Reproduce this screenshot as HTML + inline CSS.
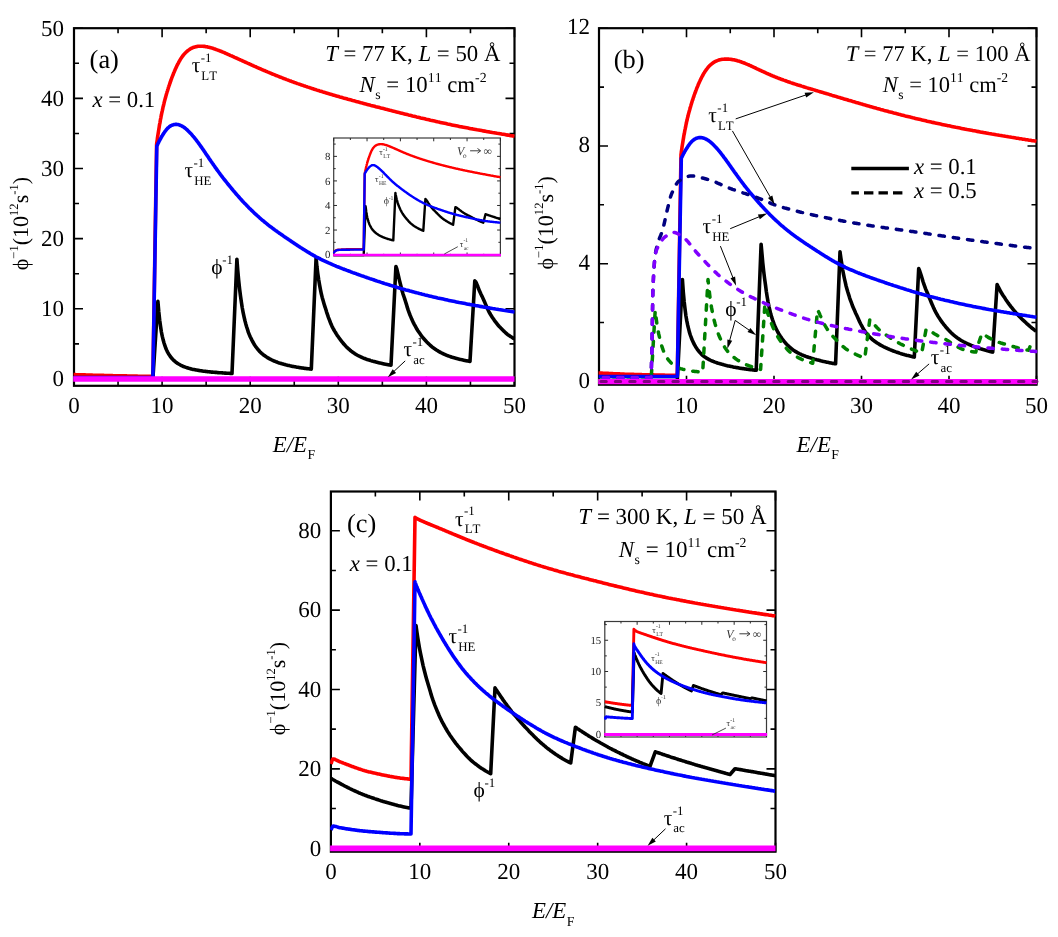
<!DOCTYPE html><html><head><meta charset="utf-8"><title>chart</title><style>html,body{margin:0;padding:0;background:#fff;}body{width:1058px;height:937px;overflow:hidden;font-family:"Liberation Serif",serif;}svg{display:block}</style></head><body><svg width="1058" height="937" viewBox="0 0 1058 937" font-family="'Liberation Serif', serif" text-rendering="geometricPrecision" style="font-kerning:none;will-change:transform"><defs><clipPath id="clipa"><rect x="73.2" y="27.4" width="442.1" height="359.20000000000005"/></clipPath><clipPath id="clipb"><rect x="598.2" y="27.4" width="439.1" height="358.1"/></clipPath><clipPath id="clipc"><rect x="330.09999999999997" y="490.7" width="446.20000000000005" height="361.80000000000007"/></clipPath><clipPath id="clipia"><rect x="332.9" y="137.2" width="168.29999999999998" height="119.4"/></clipPath><clipPath id="clipic"><rect x="604.0" y="620.7" width="163.30000000000004" height="117.1"/></clipPath></defs><rect width="1058" height="937" fill="#fff"/><rect x="74.0" y="28.2" width="440.5" height="357.6" fill="none" stroke="#000" stroke-width="2.2"/>
<path d="M74.00,385.8v-9M74.00,28.2v9M162.10,385.8v-9M162.10,28.2v9M250.20,385.8v-9M250.20,28.2v9M338.30,385.8v-9M338.30,28.2v9M426.40,385.8v-9M426.40,28.2v9M514.50,385.8v-9M514.50,28.2v9M118.05,385.8v-5M118.05,28.2v5M206.15,385.8v-5M206.15,28.2v5M294.25,385.8v-5M294.25,28.2v5M382.35,385.8v-5M382.35,28.2v5M470.45,385.8v-5M470.45,28.2v5M74.0,378.90h9M514.5,378.90h-9M74.0,308.77h9M514.5,308.77h-9M74.0,238.64h9M514.5,238.64h-9M74.0,168.51h9M514.5,168.51h-9M74.0,98.38h9M514.5,98.38h-9M74.0,28.25h9M514.5,28.25h-9M74.0,343.83h5M514.5,343.83h-5M74.0,273.70h5M514.5,273.70h-5M74.0,203.57h5M514.5,203.57h-5M74.0,133.44h5M514.5,133.44h-5M74.0,63.31h5M514.5,63.31h-5" stroke="#000" stroke-width="1.6" fill="none"/>
<polyline clip-path="url(#clipa)" points="73.5,374.6 74.4,374.6 75.3,374.6 76.1,374.7 77.0,374.7 77.9,374.7 78.8,374.7 79.7,374.8 80.6,374.8 81.4,374.8 82.3,374.9 83.2,374.9 84.1,374.9 85.0,374.9 85.8,375.0 86.7,375.0 87.6,375.0 88.5,375.0 89.4,375.1 90.3,375.1 91.1,375.1 92.0,375.1 92.9,375.2 93.8,375.2 94.7,375.2 95.5,375.2 96.4,375.3 97.3,375.3 98.2,375.3 99.1,375.3 100.0,375.3 100.8,375.4 101.7,375.4 102.6,375.4 103.5,375.4 104.4,375.5 105.3,375.5 106.1,375.5 107.0,375.5 107.9,375.5 108.8,375.6 109.7,375.6 110.5,375.6 111.4,375.6 112.3,375.6 113.2,375.7 114.1,375.7 115.0,375.7 115.8,375.7 116.7,375.7 117.6,375.8 118.5,375.8 119.4,375.8 120.2,375.8 121.1,375.8 122.0,375.8 122.9,375.9 123.8,375.9 124.7,375.9 125.5,375.9 126.4,375.9 127.3,376.0 128.2,376.0 129.1,376.0 129.9,376.0 130.8,376.0 131.7,376.0 132.6,376.1 133.5,376.1 134.4,376.1 135.2,376.1 136.1,376.1 137.0,376.1 137.9,376.2 138.8,376.2 139.7,376.2 140.5,376.2 141.4,376.2 142.3,376.2 143.2,376.3 144.1,376.3 144.9,376.3 145.8,376.3 146.7,376.3 147.6,376.3 148.5,376.3 149.4,376.3 150.2,376.4 151.1,376.4 152.0,376.4 152.9,376.4 156.6,144.7 156.7,143.4 156.9,142.1 157.1,140.8 157.3,139.6 157.4,138.3 157.6,137.0 157.8,135.8 158.0,134.5 158.2,133.2 158.4,131.9 158.6,130.7 158.8,129.4 159.0,128.2 159.2,126.9 159.4,125.6 159.6,124.4 159.9,123.1 160.1,121.9 160.3,120.6 160.5,119.4 160.8,118.1 161.0,116.9 161.2,115.7 161.5,114.5 161.7,113.3 162.0,112.0 162.3,110.9 162.5,109.7 162.8,108.5 163.0,107.3 163.3,106.2 163.6,105.0 163.9,103.9 164.1,102.7 164.4,101.6 164.7,100.5 165.0,99.4 165.3,98.3 165.6,97.2 165.9,96.1 166.2,95.0 166.5,93.9 166.8,92.9 167.1,91.8 167.5,90.8 167.8,89.7 168.1,88.7 168.4,87.6 168.8,86.6 169.1,85.6 169.5,84.6 169.8,83.5 170.2,82.5 170.5,81.5 170.9,80.5 171.2,79.5 171.6,78.6 171.9,77.6 172.3,76.6 172.7,75.6 173.1,74.7 173.4,73.7 173.8,72.8 174.2,71.9 174.6,70.9 175.0,70.0 175.4,69.1 175.8,68.2 176.2,67.4 176.6,66.5 177.0,65.6 177.4,64.8 177.9,64.0 178.3,63.2 178.7,62.4 179.1,61.6 179.6,60.8 180.0,60.1 180.4,59.4 180.9,58.6 181.3,58.0 181.8,57.3 182.2,56.6 182.7,56.0 183.2,55.4 183.6,54.8 184.1,54.3 184.6,53.8 185.0,53.2 185.5,52.7 186.0,52.3 186.5,51.8 187.0,51.4 187.5,50.9 188.0,50.5 188.5,50.2 189.0,49.8 189.5,49.5 190.0,49.1 190.5,48.8 191.0,48.5 191.6,48.3 192.1,48.0 192.6,47.8 193.1,47.5 193.7,47.3 194.2,47.2 194.8,47.0 195.3,46.8 195.9,46.7 196.4,46.6 197.0,46.5 197.5,46.4 198.1,46.3 198.7,46.3 199.2,46.2 199.8,46.2 200.4,46.2 201.0,46.2 201.6,46.2 202.1,46.2 202.7,46.2 203.3,46.3 203.9,46.4 204.5,46.4 205.1,46.5 205.7,46.6 206.4,46.7 207.0,46.8 207.6,47.0 208.2,47.1 208.9,47.2 209.5,47.4 210.1,47.6 210.8,47.7 211.4,47.9 212.0,48.1 212.7,48.3 213.4,48.5 214.0,48.7 214.7,48.9 215.3,49.2 216.0,49.4 216.7,49.7 217.3,49.9 218.0,50.2 218.7,50.4 219.4,50.7 220.1,51.0 220.8,51.2 221.5,51.5 222.2,51.8 222.9,52.1 223.6,52.4 224.3,52.7 225.0,53.0 225.7,53.3 226.4,53.6 227.2,54.0 227.9,54.3 228.6,54.6 229.3,54.9 230.1,55.3 230.8,55.6 231.6,55.9 232.3,56.3 233.1,56.6 233.8,56.9 234.6,57.3 235.3,57.6 236.1,58.0 236.9,58.3 237.7,58.7 238.4,59.0 239.2,59.4 240.0,59.7 240.8,60.1 241.6,60.4 242.4,60.8 243.2,61.2 244.0,61.5 244.8,61.9 245.6,62.3 246.4,62.6 247.2,63.0 248.0,63.4 248.9,63.7 249.7,64.1 250.5,64.5 251.4,64.9 252.2,65.2 253.0,65.6 253.9,66.0 254.7,66.4 255.6,66.7 256.4,67.1 257.3,67.5 258.1,67.9 259.0,68.3 259.9,68.6 260.8,69.0 261.6,69.4 262.5,69.8 263.4,70.2 264.3,70.5 265.2,70.9 266.1,71.3 267.0,71.7 267.9,72.1 268.8,72.4 269.7,72.8 270.6,73.2 271.5,73.6 272.4,74.0 273.3,74.3 274.3,74.7 275.2,75.1 276.1,75.5 277.1,75.8 278.0,76.2 279.0,76.6 279.9,77.0 280.9,77.3 281.8,77.7 282.8,78.1 283.7,78.5 284.7,78.8 285.7,79.2 286.6,79.6 287.6,79.9 288.6,80.3 289.6,80.7 290.6,81.0 291.5,81.4 292.5,81.8 293.5,82.1 294.5,82.5 295.5,82.8 296.5,83.2 297.6,83.6 298.6,83.9 299.6,84.3 300.6,84.6 301.6,85.0 302.7,85.3 303.7,85.7 304.7,86.0 305.8,86.4 306.8,86.7 307.9,87.1 308.9,87.4 310.0,87.8 311.0,88.1 312.1,88.5 313.1,88.8 314.2,89.2 315.3,89.5 316.4,89.9 317.4,90.2 318.5,90.5 319.6,90.9 320.7,91.2 321.8,91.5 322.9,91.9 324.0,92.2 325.1,92.6 326.2,92.9 327.3,93.2 328.4,93.6 329.5,93.9 330.7,94.2 331.8,94.6 332.9,94.9 334.0,95.2 335.2,95.6 336.3,95.9 337.5,96.2 338.6,96.5 339.7,96.9 340.9,97.2 342.1,97.5 343.2,97.9 344.4,98.2 345.5,98.5 346.7,98.8 347.9,99.2 349.1,99.5 350.2,99.8 351.4,100.1 352.6,100.5 353.8,100.8 355.0,101.1 356.2,101.5 357.4,101.8 358.6,102.1 359.8,102.4 361.0,102.8 362.3,103.1 363.5,103.4 364.7,103.7 365.9,104.1 367.2,104.4 368.4,104.7 369.6,105.0 370.9,105.4 372.1,105.7 373.4,106.0 374.6,106.3 375.9,106.7 377.1,107.0 378.4,107.3 379.7,107.6 380.9,108.0 382.2,108.3 383.5,108.6 384.8,108.9 386.0,109.3 387.3,109.6 388.6,109.9 389.9,110.3 391.2,110.6 392.5,110.9 393.8,111.2 395.1,111.6 396.4,111.9 397.8,112.2 399.1,112.6 400.4,112.9 401.7,113.2 403.1,113.6 404.4,113.9 405.7,114.2 407.1,114.5 408.4,114.9 409.8,115.2 411.1,115.5 412.5,115.9 413.8,116.2 415.2,116.5 416.5,116.9 417.9,117.2 419.3,117.5 420.7,117.9 422.0,118.2 423.4,118.5 424.8,118.8 426.2,119.2 427.6,119.5 429.0,119.8 430.4,120.2 431.8,120.5 433.2,120.8 434.6,121.1 436.0,121.4 437.5,121.8 438.9,122.1 440.3,122.4 441.7,122.7 443.2,123.0 444.6,123.3 446.0,123.6 447.5,124.0 448.9,124.3 450.4,124.6 451.8,124.9 453.3,125.2 454.8,125.5 456.2,125.8 457.7,126.1 459.2,126.4 460.6,126.7 462.1,126.9 463.6,127.2 465.1,127.5 466.6,127.8 468.1,128.1 469.6,128.4 471.1,128.7 472.6,128.9 474.1,129.2 475.6,129.5 477.1,129.8 478.6,130.0 480.1,130.3 481.7,130.6 483.2,130.9 484.7,131.1 486.3,131.4 487.8,131.7 489.3,131.9 490.9,132.2 492.4,132.5 494.0,132.7 495.5,133.0 497.1,133.3 498.7,133.5 500.2,133.8 501.8,134.1 503.4,134.3 505.0,134.6 506.5,134.9 508.1,135.1 509.7,135.4 511.3,135.7 512.9,135.9 514.5,136.2" fill="none" stroke="#ff0000" stroke-width="3.6" stroke-linecap="butt" stroke-linejoin="round"/>
<polyline clip-path="url(#clipa)" points="73.5,378.5 74.4,378.5 75.3,378.5 76.1,378.5 77.0,378.5 77.9,378.5 78.8,378.5 79.7,378.5 80.6,378.5 81.4,378.5 82.3,378.5 83.2,378.5 84.1,378.5 85.0,378.5 85.8,378.5 86.7,378.5 87.6,378.5 88.5,378.5 89.4,378.5 90.3,378.5 91.1,378.5 92.0,378.5 92.9,378.5 93.8,378.5 94.7,378.5 95.5,378.5 96.4,378.5 97.3,378.5 98.2,378.5 99.1,378.5 100.0,378.5 100.8,378.5 101.7,378.5 102.6,378.5 103.5,378.5 104.4,378.5 105.3,378.5 106.1,378.5 107.0,378.5 107.9,378.5 108.8,378.5 109.7,378.5 110.5,378.5 111.4,378.5 112.3,378.5 113.2,378.5 114.1,378.5 115.0,378.5 115.8,378.5 116.7,378.5 117.6,378.5 118.5,378.5 119.4,378.5 120.2,378.5 121.1,378.5 122.0,378.5 122.9,378.5 123.8,378.5 124.7,378.5 125.5,378.5 126.4,378.5 127.3,378.5 128.2,378.5 129.1,378.5 129.9,378.5 130.8,378.5 131.7,378.5 132.6,378.5 133.5,378.5 134.4,378.5 135.2,378.5 136.1,378.5 137.0,378.5 137.9,378.5 138.8,378.5 139.7,378.5 140.5,378.5 141.4,378.5 142.3,378.5 143.2,378.5 144.1,378.5 144.9,378.5 145.8,378.5 146.7,378.5 147.6,378.5 148.5,378.5 149.4,378.5 150.2,378.5 151.1,378.5 152.0,378.5 152.9,378.5 157.9,301.3 158.8,312.0 159.7,320.2 160.6,326.7 161.4,332.0 162.3,336.4 163.2,340.1 164.1,343.2 165.0,345.9 165.8,348.3 166.7,350.3 167.6,352.1 168.5,353.7 169.4,355.1 170.3,356.4 171.1,357.5 172.0,358.6 172.9,359.5 173.8,360.4 174.7,361.2 175.5,361.9 176.4,362.6 177.3,363.2 178.2,363.8 179.1,364.3 180.0,364.8 180.8,365.3 181.7,365.7 182.6,366.1 183.5,366.5 184.4,366.8 185.2,367.1 186.1,367.4 187.0,367.7 187.9,368.0 188.8,368.3 189.7,368.5 190.5,368.7 191.4,369.0 192.3,369.2 193.2,369.4 194.1,369.6 195.0,369.8 195.8,369.9 196.7,370.1 197.6,370.3 198.5,370.4 199.4,370.5 200.2,370.7 201.1,370.8 202.0,370.9 202.9,371.1 203.8,371.2 204.7,371.3 205.5,371.4 206.4,371.5 207.3,371.6 208.2,371.7 209.1,371.8 209.9,371.9 210.8,372.0 211.7,372.1 212.6,372.1 213.5,372.2 214.4,372.3 215.2,372.4 216.1,372.4 217.0,372.5 217.9,372.6 218.8,372.7 219.6,372.7 220.5,372.8 221.4,372.8 222.3,372.9 223.2,373.0 224.1,373.0 224.9,373.1 225.8,373.1 226.7,373.2 227.6,373.2 228.5,373.3 229.3,373.3 230.2,373.4 231.1,373.4 232.0,373.5 236.9,259.2 237.8,270.8 238.7,280.7 239.6,289.0 240.5,296.1 241.4,302.2 242.2,307.5 243.1,312.3 244.0,316.6 244.9,320.5 245.8,323.9 246.7,327.0 247.6,329.8 248.4,332.4 249.3,334.6 250.2,336.7 251.1,338.6 252.0,340.4 252.9,342.0 253.8,343.6 254.6,345.0 255.5,346.3 256.4,347.5 257.3,348.7 258.2,349.8 259.1,350.8 259.9,351.7 260.8,352.6 261.7,353.4 262.6,354.1 263.5,354.9 264.4,355.5 265.3,356.2 266.1,356.8 267.0,357.3 267.9,357.9 268.8,358.4 269.7,358.9 270.6,359.3 271.5,359.8 272.3,360.2 273.2,360.6 274.1,361.0 275.0,361.3 275.9,361.7 276.8,362.0 277.7,362.4 278.5,362.7 279.4,363.0 280.3,363.2 281.2,363.5 282.1,363.8 283.0,364.0 283.8,364.3 284.7,364.5 285.6,364.8 286.5,365.0 287.4,365.2 288.3,365.4 289.2,365.6 290.0,365.8 290.9,366.0 291.8,366.2 292.7,366.4 293.6,366.5 294.5,366.7 295.4,366.8 296.2,367.0 297.1,367.2 298.0,367.3 298.9,367.5 299.8,367.6 300.7,367.7 301.6,367.9 302.4,368.0 303.3,368.1 304.2,368.2 305.1,368.4 306.0,368.5 306.9,368.6 307.7,368.7 308.6,368.8 309.5,368.9 310.4,369.0 311.3,369.1 316.1,257.6 316.9,266.3 317.8,273.6 318.7,279.8 319.6,285.1 320.5,289.8 321.3,293.8 322.2,297.4 323.1,300.6 324.0,303.7 324.9,306.6 325.8,309.3 326.6,312.1 327.5,314.7 328.4,317.3 329.3,319.7 330.2,322.0 331.0,324.1 331.9,326.1 332.8,327.9 333.7,329.5 334.6,331.1 335.5,332.5 336.3,333.9 337.2,335.3 338.1,336.5 339.0,337.8 339.9,339.0 340.7,340.2 341.6,341.3 342.5,342.4 343.4,343.5 344.3,344.6 345.2,345.5 346.0,346.5 346.9,347.3 347.8,348.2 348.7,349.0 349.6,349.7 350.4,350.5 351.3,351.2 352.2,351.8 353.1,352.5 354.0,353.1 354.9,353.7 355.7,354.2 356.6,354.8 357.5,355.3 358.4,355.7 359.3,356.2 360.2,356.6 361.0,357.0 361.9,357.4 362.8,357.8 363.7,358.2 364.6,358.5 365.4,358.8 366.3,359.2 367.2,359.5 368.1,359.8 369.0,360.0 369.9,360.3 370.7,360.6 371.6,360.9 372.5,361.1 373.4,361.4 374.3,361.6 375.1,361.8 376.0,362.1 376.9,362.3 377.8,362.5 378.7,362.7 379.6,362.9 380.4,363.1 381.3,363.3 382.2,363.5 383.1,363.7 384.0,363.9 384.8,364.1 385.7,364.2 386.6,364.4 387.5,364.6 388.4,364.7 389.3,364.9 390.1,365.0 391.0,365.2 395.9,266.5 396.8,268.9 397.6,272.4 398.5,276.2 399.4,280.1 400.3,283.8 401.2,287.3 402.0,290.6 402.9,293.6 403.8,296.3 404.7,298.9 405.6,301.7 406.5,304.6 407.3,307.4 408.2,310.1 409.1,312.6 410.0,315.0 410.9,317.1 411.7,319.1 412.6,321.0 413.5,322.9 414.4,324.6 415.3,326.2 416.2,327.8 417.0,329.3 417.9,330.7 418.8,332.0 419.7,333.3 420.6,334.6 421.4,335.7 422.3,336.9 423.2,338.0 424.1,339.0 425.0,340.0 425.9,341.0 426.7,341.9 427.6,342.8 428.5,343.7 429.4,344.5 430.3,345.3 431.2,346.1 432.0,346.8 432.9,347.5 433.8,348.2 434.7,348.8 435.6,349.4 436.4,350.0 437.3,350.5 438.2,351.1 439.1,351.6 440.0,352.1 440.9,352.6 441.7,353.0 442.6,353.5 443.5,353.9 444.4,354.3 445.3,354.7 446.1,355.1 447.0,355.4 447.9,355.8 448.8,356.1 449.7,356.4 450.6,356.7 451.4,357.0 452.3,357.3 453.2,357.6 454.1,357.8 455.0,358.1 455.8,358.3 456.7,358.6 457.6,358.8 458.5,359.0 459.4,359.2 460.3,359.4 461.1,359.6 462.0,359.8 462.9,360.0 463.8,360.2 464.7,360.4 465.5,360.6 466.4,360.7 467.3,360.9 468.2,361.0 469.1,361.2 470.0,361.4 474.8,280.9 475.7,281.8 476.6,283.6 477.5,285.7 478.3,288.0 479.2,290.2 480.1,292.3 481.0,294.3 481.9,296.1 482.7,297.8 483.6,299.7 484.5,301.8 485.4,303.9 486.3,306.0 487.2,308.0 488.0,309.8 488.9,311.6 489.8,313.3 490.7,314.8 491.6,316.2 492.4,317.5 493.3,318.8 494.2,320.1 495.1,321.3 496.0,322.5 496.9,323.6 497.7,324.7 498.6,325.7 499.5,326.7 500.4,327.6 501.3,328.6 502.2,329.5 503.0,330.3 503.9,331.2 504.8,332.0 505.7,332.8 506.6,333.6 507.4,334.3 508.3,335.0 509.2,335.6 510.1,336.2 511.0,336.8 511.9,337.3 512.7,337.9 513.6,338.4 514.5,338.9" fill="none" stroke="#000000" stroke-width="3.6" stroke-linecap="butt" stroke-linejoin="round"/>
<polyline clip-path="url(#clipa)" points="73.5,377.5 74.4,377.5 75.3,377.5 76.1,377.5 77.0,377.5 77.9,377.5 78.8,377.5 79.7,377.5 80.6,377.5 81.4,377.5 82.3,377.5 83.2,377.5 84.1,377.5 85.0,377.5 85.8,377.5 86.7,377.5 87.6,377.5 88.5,377.5 89.4,377.5 90.3,377.5 91.1,377.5 92.0,377.5 92.9,377.5 93.8,377.5 94.7,377.5 95.5,377.5 96.4,377.5 97.3,377.5 98.2,377.5 99.1,377.5 100.0,377.5 100.8,377.5 101.7,377.5 102.6,377.5 103.5,377.5 104.4,377.5 105.3,377.5 106.1,377.5 107.0,377.5 107.9,377.5 108.8,377.5 109.7,377.5 110.5,377.5 111.4,377.5 112.3,377.5 113.2,377.5 114.1,377.5 115.0,377.5 115.8,377.5 116.7,377.5 117.6,377.5 118.5,377.5 119.4,377.5 120.2,377.5 121.1,377.5 122.0,377.5 122.9,377.5 123.8,377.5 124.7,377.5 125.5,377.5 126.4,377.5 127.3,377.5 128.2,377.5 129.1,377.5 129.9,377.5 130.8,377.5 131.7,377.5 132.6,377.5 133.5,377.5 134.4,377.5 135.2,377.5 136.1,377.5 137.0,377.5 137.9,377.5 138.8,377.5 139.7,377.5 140.5,377.5 141.4,377.5 142.3,377.5 143.2,377.5 144.1,377.5 144.9,377.5 145.8,377.5 146.7,377.5 147.6,377.5 148.5,377.5 149.4,377.5 150.2,377.5 151.1,377.5 152.0,377.5 152.9,377.5 156.8,146.1 157.0,145.8 157.2,145.4 157.4,145.0 157.5,144.6 157.7,144.2 157.9,143.8 158.1,143.4 158.3,143.0 158.5,142.6 158.7,142.2 158.9,141.8 159.1,141.4 159.3,140.9 159.5,140.5 159.8,140.1 160.0,139.7 160.2,139.3 160.4,138.9 160.7,138.5 160.9,138.0 161.1,137.6 161.4,137.2 161.6,136.8 161.9,136.3 162.1,135.9 162.4,135.5 162.7,135.0 162.9,134.6 163.2,134.2 163.5,133.7 163.7,133.3 164.0,132.9 164.3,132.5 164.6,132.0 164.9,131.6 165.2,131.2 165.5,130.8 165.8,130.4 166.1,130.1 166.4,129.7 166.7,129.3 167.0,129.0 167.3,128.6 167.6,128.3 168.0,128.0 168.3,127.7 168.6,127.4 169.0,127.1 169.3,126.8 169.6,126.6 170.0,126.3 170.3,126.1 170.7,125.9 171.0,125.7 171.4,125.5 171.8,125.3 172.1,125.2 172.5,125.0 172.9,124.9 173.3,124.8 173.6,124.7 174.0,124.6 174.4,124.5 174.8,124.5 175.2,124.4 175.6,124.4 176.0,124.4 176.4,124.4 176.8,124.4 177.2,124.5 177.6,124.5 178.1,124.6 178.5,124.7 178.9,124.8 179.3,125.0 179.8,125.1 180.2,125.3 180.7,125.5 181.1,125.7 181.6,125.9 182.0,126.1 182.5,126.4 182.9,126.7 183.4,126.9 183.9,127.3 184.3,127.6 184.8,127.9 185.3,128.3 185.8,128.7 186.2,129.1 186.7,129.5 187.2,130.0 187.7,130.4 188.2,130.9 188.7,131.4 189.2,131.9 189.7,132.4 190.2,133.0 190.7,133.5 191.3,134.1 191.8,134.7 192.3,135.3 192.8,135.9 193.4,136.5 193.9,137.2 194.5,137.9 195.0,138.5 195.5,139.2 196.1,139.9 196.7,140.7 197.2,141.4 197.8,142.1 198.3,142.9 198.9,143.7 199.5,144.5 200.1,145.3 200.6,146.1 201.2,146.9 201.8,147.7 202.4,148.6 203.0,149.4 203.6,150.3 204.2,151.2 204.8,152.1 205.4,153.0 206.0,153.9 206.6,154.8 207.2,155.7 207.9,156.6 208.5,157.5 209.1,158.5 209.7,159.4 210.4,160.3 211.0,161.2 211.7,162.2 212.3,163.1 213.0,164.0 213.6,165.0 214.3,165.9 214.9,166.9 215.6,167.8 216.3,168.7 216.9,169.7 217.6,170.6 218.3,171.5 219.0,172.5 219.7,173.4 220.3,174.3 221.0,175.2 221.7,176.2 222.4,177.1 223.1,178.0 223.8,178.9 224.5,179.8 225.3,180.7 226.0,181.6 226.7,182.5 227.4,183.4 228.1,184.3 228.9,185.2 229.6,186.1 230.4,187.0 231.1,187.9 231.8,188.8 232.6,189.7 233.3,190.6 234.1,191.5 234.9,192.4 235.6,193.3 236.4,194.2 237.2,195.1 237.9,195.9 238.7,196.8 239.5,197.7 240.3,198.6 241.1,199.5 241.8,200.3 242.6,201.2 243.4,202.0 244.2,202.9 245.1,203.8 245.9,204.6 246.7,205.4 247.5,206.3 248.3,207.1 249.1,208.0 250.0,208.8 250.8,209.6 251.6,210.4 252.5,211.2 253.3,212.0 254.1,212.8 255.0,213.6 255.8,214.4 256.7,215.2 257.6,216.0 258.4,216.7 259.3,217.5 260.2,218.3 261.0,219.0 261.9,219.8 262.8,220.5 263.7,221.2 264.5,222.0 265.4,222.7 266.3,223.4 267.2,224.1 268.1,224.9 269.0,225.6 269.9,226.3 270.9,227.0 271.8,227.6 272.7,228.3 273.6,229.0 274.5,229.7 275.5,230.4 276.4,231.0 277.3,231.7 278.3,232.4 279.2,233.1 280.2,233.7 281.1,234.4 282.1,235.0 283.0,235.7 284.0,236.4 284.9,237.0 285.9,237.7 286.9,238.4 287.9,239.0 288.8,239.7 289.8,240.3 290.8,241.0 291.8,241.7 292.8,242.4 293.8,243.0 294.8,243.7 295.8,244.4 296.8,245.0 297.8,245.7 298.8,246.4 299.8,247.0 300.9,247.7 301.9,248.3 302.9,249.0 303.9,249.6 305.0,250.3 306.0,250.9 307.1,251.6 308.1,252.2 309.2,252.8 310.2,253.5 311.3,254.1 312.3,254.7 313.4,255.3 314.5,255.9 315.5,256.5 316.6,257.1 317.7,257.6 318.8,258.2 319.8,258.7 320.9,259.3 322.0,259.8 323.1,260.4 324.2,260.9 325.3,261.4 326.4,261.9 327.5,262.4 328.6,262.9 329.8,263.4 330.9,263.9 332.0,264.4 333.1,264.9 334.3,265.4 335.4,265.8 336.5,266.3 337.7,266.8 338.8,267.2 340.0,267.7 341.1,268.1 342.3,268.6 343.4,269.0 344.6,269.5 345.8,269.9 346.9,270.4 348.1,270.8 349.3,271.2 350.5,271.7 351.6,272.1 352.8,272.6 354.0,273.0 355.2,273.4 356.4,273.8 357.6,274.3 358.8,274.7 360.0,275.1 361.2,275.6 362.5,276.0 363.7,276.4 364.9,276.9 366.1,277.3 367.3,277.7 368.6,278.1 369.8,278.6 371.1,279.0 372.3,279.4 373.5,279.8 374.8,280.3 376.1,280.7 377.3,281.1 378.6,281.5 379.8,281.9 381.1,282.4 382.4,282.8 383.7,283.2 384.9,283.6 386.2,284.0 387.5,284.4 388.8,284.8 390.1,285.2 391.4,285.6 392.7,286.0 394.0,286.4 395.3,286.8 396.6,287.2 397.9,287.6 399.2,288.0 400.6,288.4 401.9,288.7 403.2,289.1 404.5,289.5 405.9,289.9 407.2,290.2 408.6,290.6 409.9,291.0 411.2,291.3 412.6,291.7 414.0,292.1 415.3,292.4 416.7,292.8 418.1,293.1 419.4,293.5 420.8,293.8 422.2,294.2 423.6,294.5 424.9,294.9 426.3,295.2 427.7,295.6 429.1,295.9 430.5,296.2 431.9,296.6 433.3,296.9 434.7,297.2 436.1,297.5 437.6,297.9 439.0,298.2 440.4,298.5 441.8,298.8 443.3,299.1 444.7,299.4 446.1,299.7 447.6,300.1 449.0,300.4 450.5,300.7 451.9,301.0 453.4,301.3 454.8,301.6 456.3,301.9 457.8,302.2 459.2,302.5 460.7,302.7 462.2,303.0 463.7,303.3 465.2,303.6 466.6,303.9 468.1,304.2 469.6,304.4 471.1,304.7 472.6,305.0 474.1,305.3 475.6,305.6 477.1,305.8 478.7,306.1 480.2,306.4 481.7,306.6 483.2,306.9 484.8,307.2 486.3,307.4 487.8,307.7 489.4,307.9 490.9,308.2 492.5,308.5 494.0,308.7 495.6,309.0 497.1,309.2 498.7,309.5 500.3,309.7 501.8,310.0 503.4,310.3 505.0,310.5 506.6,310.8 508.1,311.0 509.7,311.3 511.3,311.5 512.9,311.8 514.5,312.0" fill="none" stroke="#0000ff" stroke-width="3.6" stroke-linecap="butt" stroke-linejoin="round"/>
<line x1="73.2" x2="514.5" y1="379.0" y2="379.0" stroke="#ff00ff" stroke-width="5.7"/>
<text x="74.00" y="412.9" font-size="23" text-anchor="middle">0</text>
<text x="64" y="386.20" font-size="23" text-anchor="end">0</text>
<text x="162.10" y="412.9" font-size="23" text-anchor="middle">10</text>
<text x="64" y="316.07" font-size="23" text-anchor="end">10</text>
<text x="250.20" y="412.9" font-size="23" text-anchor="middle">20</text>
<text x="64" y="245.94" font-size="23" text-anchor="end">20</text>
<text x="338.30" y="412.9" font-size="23" text-anchor="middle">30</text>
<text x="64" y="175.81" font-size="23" text-anchor="end">30</text>
<text x="426.40" y="412.9" font-size="23" text-anchor="middle">40</text>
<text x="64" y="105.68" font-size="23" text-anchor="end">40</text>
<text x="514.50" y="412.9" font-size="23" text-anchor="middle">50</text>
<text x="64" y="35.55" font-size="23" text-anchor="end">50</text>
<g fill="#000"><text x="272.82" y="451.50" font-size="22.8" font-style="italic">E</text><text x="286.75" y="451.50" font-size="22.8" font-style="italic">/</text><text x="293.08" y="451.50" font-size="22.8" font-style="italic">E</text><text x="307.51" y="459.02" font-size="13.8">F</text></g>
<g fill="#000" transform="rotate(-90 28.4 223.6)"><text x="-18.25" y="223.60" font-size="22.0">ϕ</text><text x="-6.67" y="213.15" font-size="12.6">−</text><text x="0.44" y="213.15" font-size="12.6">1</text><text x="6.74" y="223.60" font-size="22.0">(10</text><text x="36.06" y="213.15" font-size="12.6">12</text><text x="48.66" y="223.60" font-size="22.0">s</text><text x="57.23" y="213.15" font-size="12.6">-1</text><text x="67.72" y="223.60" font-size="22.0">)</text></g>
<g fill="#000"><text x="89.60" y="68.30" font-size="26.4">(a)</text></g>
<g fill="#000"><text x="92.40" y="106.80" font-size="22.8" font-style="italic">x</text><text x="102.52" y="106.80" font-size="22.8"> = 0.1</text></g>
<g fill="#000"><text x="325.19" y="61.20" font-size="22.8" font-style="italic">T</text><text x="337.87" y="61.20" font-size="22.8"> = 77 K, </text><text x="418.50" y="61.20" font-size="22.8" font-style="italic">L</text><text x="431.18" y="61.20" font-size="22.8"> = 50 Å</text></g>
<g fill="#000"><text x="359.60" y="91.80" font-size="22.8" font-style="italic">N</text><text x="375.31" y="99.32" font-size="13.8">s</text><text x="380.68" y="91.80" font-size="22.8"> = 10</text><text x="427.74" y="82.22" font-size="13.8">11</text><text x="441.54" y="91.80" font-size="22.8"> cm</text><text x="475.09" y="82.22" font-size="13.8">-2</text></g>
<g fill="#000"><text x="191.70" y="72.10" font-size="21.3">τ</text><text x="200.76" y="61.80" font-size="12.9">-1</text><text x="201.36" y="79.70" font-size="12.9">LT</text></g>
<g fill="#000"><text x="184.50" y="177.00" font-size="21.3">τ</text><text x="193.56" y="166.70" font-size="12.9">-1</text><text x="194.16" y="184.60" font-size="12.9">HE</text></g>
<g fill="#000"><text x="211.20" y="274.00" font-size="21.5">ϕ</text><text x="222.22" y="263.80" font-size="12.9">-1</text></g>
<g fill="#000"><text x="403.50" y="356.40" font-size="21.3">τ</text><text x="412.56" y="346.10" font-size="12.9">-1</text><text x="413.16" y="364.00" font-size="12.9">ac</text></g>
<line x1="405.2" y1="360.9" x2="393.6" y2="371.7" stroke="#000" stroke-width="1.0"/>
<polygon points="387.8,377.2 392.7,369.2 396.1,372.9" fill="#000"/>
<rect x="599.0" y="28.2" width="437.5" height="356.5" fill="none" stroke="#000" stroke-width="2.2"/>
<path d="M599.00,384.7v-9M599.00,28.2v9M686.50,384.7v-9M686.50,28.2v9M774.00,384.7v-9M774.00,28.2v9M861.50,384.7v-9M861.50,28.2v9M949.00,384.7v-9M949.00,28.2v9M1036.50,384.7v-9M1036.50,28.2v9M642.75,384.7v-5M642.75,28.2v5M730.25,384.7v-5M730.25,28.2v5M817.75,384.7v-5M817.75,28.2v5M905.25,384.7v-5M905.25,28.2v5M992.75,384.7v-5M992.75,28.2v5M599.0,381.40h9M1036.5,381.40h-9M599.0,263.68h9M1036.5,263.68h-9M599.0,145.96h9M1036.5,145.96h-9M599.0,28.24h9M1036.5,28.24h-9M599.0,322.54h5M1036.5,322.54h-5M599.0,204.82h5M1036.5,204.82h-5M599.0,87.10h5M1036.5,87.10h-5" stroke="#000" stroke-width="1.6" fill="none"/>
<polyline clip-path="url(#clipb)" points="598.5,373.0 599.4,373.0 600.3,373.1 601.1,373.1 602.0,373.1 602.9,373.2 603.8,373.2 604.6,373.3 605.5,373.3 606.4,373.4 607.3,373.4 608.1,373.4 609.0,373.5 609.9,373.5 610.8,373.6 611.6,373.6 612.5,373.6 613.4,373.7 614.3,373.7 615.1,373.8 616.0,373.8 616.9,373.8 617.8,373.9 618.6,373.9 619.5,373.9 620.4,374.0 621.3,374.0 622.2,374.1 623.0,374.1 623.9,374.1 624.8,374.2 625.7,374.2 626.5,374.2 627.4,374.2 628.3,374.3 629.2,374.3 630.0,374.3 630.9,374.4 631.8,374.4 632.7,374.4 633.5,374.4 634.4,374.5 635.3,374.5 636.2,374.5 637.0,374.5 637.9,374.6 638.8,374.6 639.7,374.6 640.5,374.6 641.4,374.6 642.3,374.7 643.2,374.7 644.1,374.7 644.9,374.7 645.8,374.8 646.7,374.8 647.6,374.8 648.4,374.8 649.3,374.8 650.2,374.9 651.1,374.9 651.9,374.9 652.8,374.9 653.7,374.9 654.6,375.0 655.4,375.0 656.3,375.0 657.2,375.0 658.1,375.0 658.9,375.1 659.8,375.1 660.7,375.1 661.6,375.1 662.4,375.1 663.3,375.1 664.2,375.1 665.1,375.2 666.0,375.2 666.8,375.2 667.7,375.2 668.6,375.2 669.5,375.2 670.3,375.2 671.2,375.3 672.1,375.3 673.0,375.3 673.8,375.3 674.7,375.3 675.6,375.3 676.5,375.3 677.3,375.3 681.0,154.6 681.2,153.3 681.3,152.1 681.5,150.9 681.7,149.6 681.9,148.4 682.0,147.2 682.2,145.9 682.4,144.7 682.6,143.5 682.8,142.3 683.0,141.0 683.2,139.8 683.4,138.6 683.6,137.4 683.8,136.1 684.0,134.9 684.3,133.7 684.5,132.5 684.7,131.3 684.9,130.1 685.2,128.9 685.4,127.7 685.7,126.5 685.9,125.3 686.1,124.2 686.4,123.0 686.6,121.8 686.9,120.7 687.2,119.5 687.4,118.4 687.7,117.3 688.0,116.2 688.2,115.1 688.5,114.0 688.8,112.9 689.1,111.8 689.4,110.7 689.7,109.7 690.0,108.6 690.3,107.6 690.6,106.5 690.9,105.5 691.2,104.4 691.5,103.4 691.8,102.4 692.1,101.4 692.5,100.4 692.8,99.4 693.1,98.4 693.5,97.4 693.8,96.4 694.1,95.4 694.5,94.4 694.8,93.5 695.2,92.5 695.6,91.5 695.9,90.6 696.3,89.6 696.6,88.7 697.0,87.7 697.4,86.8 697.8,85.9 698.1,85.0 698.5,84.1 698.9,83.2 699.3,82.3 699.7,81.5 700.1,80.6 700.5,79.7 700.9,78.9 701.3,78.1 701.7,77.3 702.1,76.5 702.6,75.7 703.0,74.9 703.4,74.1 703.8,73.4 704.3,72.7 704.7,72.0 705.2,71.3 705.6,70.6 706.1,70.0 706.5,69.4 707.0,68.8 707.4,68.2 707.9,67.6 708.3,67.1 708.8,66.6 709.3,66.1 709.8,65.6 710.2,65.1 710.7,64.7 711.2,64.3 711.7,63.9 712.2,63.5 712.7,63.1 713.2,62.8 713.7,62.4 714.2,62.1 714.7,61.8 715.2,61.5 715.7,61.3 716.3,61.0 716.8,60.8 717.3,60.6 717.9,60.4 718.4,60.2 718.9,60.0 719.5,59.9 720.0,59.7 720.6,59.6 721.1,59.5 721.7,59.4 722.2,59.3 722.8,59.3 723.4,59.2 723.9,59.2 724.5,59.1 725.1,59.1 725.7,59.1 726.3,59.1 726.9,59.1 727.4,59.1 728.0,59.1 728.6,59.1 729.2,59.2 729.8,59.2 730.5,59.3 731.1,59.4 731.7,59.5 732.3,59.6 732.9,59.7 733.6,59.8 734.2,59.9 734.8,60.0 735.5,60.2 736.1,60.4 736.8,60.5 737.4,60.7 738.1,60.9 738.7,61.1 739.4,61.3 740.0,61.5 740.7,61.7 741.4,62.0 742.0,62.2 742.7,62.5 743.4,62.7 744.1,63.0 744.8,63.3 745.5,63.5 746.1,63.8 746.8,64.1 747.5,64.4 748.3,64.7 749.0,65.0 749.7,65.4 750.4,65.7 751.1,66.0 751.8,66.3 752.6,66.7 753.3,67.0 754.0,67.4 754.8,67.7 755.5,68.0 756.2,68.4 757.0,68.8 757.7,69.1 758.5,69.5 759.2,69.8 760.0,70.2 760.8,70.5 761.5,70.9 762.3,71.3 763.1,71.6 763.9,72.0 764.7,72.3 765.4,72.7 766.2,73.1 767.0,73.4 767.8,73.8 768.6,74.1 769.4,74.5 770.2,74.8 771.0,75.2 771.8,75.5 772.7,75.9 773.5,76.2 774.3,76.5 775.1,76.9 776.0,77.2 776.8,77.5 777.6,77.9 778.5,78.2 779.3,78.5 780.2,78.8 781.0,79.2 781.9,79.5 782.8,79.8 783.6,80.1 784.5,80.4 785.4,80.7 786.2,81.0 787.1,81.4 788.0,81.7 788.9,82.0 789.8,82.3 790.6,82.6 791.5,82.9 792.4,83.2 793.3,83.5 794.2,83.8 795.2,84.1 796.1,84.4 797.0,84.7 797.9,85.0 798.8,85.2 799.8,85.5 800.7,85.8 801.6,86.1 802.6,86.4 803.5,86.7 804.4,87.0 805.4,87.3 806.3,87.6 807.3,87.9 808.3,88.2 809.2,88.4 810.2,88.7 811.1,89.0 812.1,89.3 813.1,89.6 814.1,89.9 815.1,90.2 816.0,90.5 817.0,90.8 818.0,91.1 819.0,91.4 820.0,91.7 821.0,92.0 822.0,92.3 823.0,92.6 824.1,92.9 825.1,93.2 826.1,93.5 827.1,93.8 828.2,94.1 829.2,94.4 830.2,94.8 831.3,95.1 832.3,95.4 833.4,95.7 834.4,96.0 835.5,96.3 836.5,96.6 837.6,97.0 838.6,97.3 839.7,97.6 840.8,97.9 841.9,98.2 842.9,98.6 844.0,98.9 845.1,99.2 846.2,99.5 847.3,99.8 848.4,100.2 849.5,100.5 850.6,100.8 851.7,101.1 852.8,101.5 853.9,101.8 855.0,102.1 856.1,102.5 857.3,102.8 858.4,103.1 859.5,103.4 860.7,103.8 861.8,104.1 862.9,104.4 864.1,104.8 865.2,105.1 866.4,105.4 867.5,105.7 868.7,106.1 869.9,106.4 871.0,106.7 872.2,107.1 873.4,107.4 874.5,107.7 875.7,108.0 876.9,108.4 878.1,108.7 879.3,109.0 880.5,109.4 881.7,109.7 882.9,110.0 884.1,110.4 885.3,110.7 886.5,111.0 887.7,111.3 888.9,111.7 890.2,112.0 891.4,112.3 892.6,112.6 893.8,113.0 895.1,113.3 896.3,113.6 897.6,113.9 898.8,114.3 900.1,114.6 901.3,114.9 902.6,115.2 903.8,115.5 905.1,115.9 906.4,116.2 907.6,116.5 908.9,116.8 910.2,117.1 911.5,117.4 912.8,117.8 914.1,118.1 915.3,118.4 916.6,118.7 917.9,119.0 919.2,119.3 920.5,119.6 921.9,119.9 923.2,120.2 924.5,120.5 925.8,120.8 927.1,121.2 928.5,121.5 929.8,121.8 931.1,122.1 932.5,122.4 933.8,122.6 935.2,122.9 936.5,123.2 937.9,123.5 939.2,123.8 940.6,124.1 941.9,124.4 943.3,124.7 944.7,125.0 946.0,125.3 947.4,125.6 948.8,125.8 950.2,126.1 951.6,126.4 953.0,126.7 954.4,127.0 955.8,127.3 957.2,127.5 958.6,127.8 960.0,128.1 961.4,128.4 962.8,128.7 964.2,128.9 965.6,129.2 967.1,129.5 968.5,129.7 969.9,130.0 971.4,130.3 972.8,130.6 974.3,130.8 975.7,131.1 977.2,131.4 978.6,131.6 980.1,131.9 981.5,132.2 983.0,132.4 984.5,132.7 985.9,132.9 987.4,133.2 988.9,133.5 990.4,133.7 991.9,134.0 993.4,134.2 994.8,134.5 996.3,134.8 997.8,135.0 999.3,135.3 1000.9,135.5 1002.4,135.8 1003.9,136.0 1005.4,136.3 1006.9,136.5 1008.4,136.8 1010.0,137.0 1011.5,137.3 1013.0,137.5 1014.6,137.8 1016.1,138.1 1017.7,138.3 1019.2,138.6 1020.8,138.8 1022.3,139.1 1023.9,139.3 1025.5,139.6 1027.0,139.8 1028.6,140.1 1030.2,140.3 1031.7,140.6 1033.3,140.8 1034.9,141.0 1036.5,141.3" fill="none" stroke="#ff0000" stroke-width="3.6" stroke-linecap="butt" stroke-linejoin="round"/>
<polyline clip-path="url(#clipb)" points="598.5,380.6 599.4,380.6 600.3,380.6 601.1,380.6 602.0,380.6 602.9,380.6 603.8,380.6 604.6,380.6 605.5,380.6 606.4,380.6 607.3,380.6 608.1,380.6 609.0,380.6 609.9,380.6 610.8,380.6 611.6,380.6 612.5,380.6 613.4,380.6 614.3,380.6 615.1,380.6 616.0,380.6 616.9,380.6 617.8,380.6 618.6,380.6 619.5,380.6 620.4,380.6 621.3,380.6 622.2,380.6 623.0,380.6 623.9,380.6 624.8,380.6 625.7,380.6 626.5,380.6 627.4,380.6 628.3,380.6 629.2,380.6 630.0,380.6 630.9,380.6 631.8,380.6 632.7,380.6 633.5,380.6 634.4,380.6 635.3,380.6 636.2,380.6 637.0,380.6 637.9,380.6 638.8,380.6 639.7,380.6 640.5,380.6 641.4,380.6 642.3,380.6 643.2,380.6 644.1,380.6 644.9,380.6 645.8,380.6 646.7,380.6 647.6,380.6 648.4,380.6 649.3,380.6 650.2,380.6 651.1,380.6 651.9,380.6 652.8,380.6 653.7,380.6 654.6,380.6 655.4,380.6 656.3,380.6 657.2,380.6 658.1,380.6 658.9,380.6 659.8,380.6 660.7,380.6 661.6,380.6 662.4,380.6 663.3,380.6 664.2,380.6 665.1,380.6 666.0,380.6 666.8,380.6 667.7,380.6 668.6,380.6 669.5,380.6 670.3,380.6 671.2,380.6 672.1,380.6 673.0,380.6 673.8,380.6 674.7,380.6 675.6,380.6 676.5,380.6 677.3,380.6 682.4,279.5 683.3,292.2 684.2,301.9 685.1,309.5 685.9,315.7 686.8,320.9 687.7,325.2 688.6,328.9 689.4,332.1 690.3,335.0 691.2,337.5 692.1,339.7 693.0,341.7 693.8,343.5 694.7,345.1 695.6,346.7 696.5,348.1 697.3,349.3 698.2,350.5 699.1,351.6 700.0,352.7 700.9,353.6 701.7,354.5 702.6,355.3 703.5,356.0 704.4,356.7 705.3,357.3 706.1,357.9 707.0,358.4 707.9,358.9 708.8,359.4 709.6,359.8 710.5,360.3 711.4,360.7 712.3,361.0 713.2,361.4 714.0,361.7 714.9,362.1 715.8,362.4 716.7,362.7 717.5,363.0 718.4,363.3 719.3,363.5 720.2,363.8 721.1,364.0 721.9,364.3 722.8,364.5 723.7,364.8 724.6,365.0 725.4,365.2 726.3,365.4 727.2,365.7 728.1,365.9 729.0,366.1 729.8,366.3 730.7,366.4 731.6,366.6 732.5,366.8 733.3,367.0 734.2,367.2 735.1,367.3 736.0,367.5 736.9,367.6 737.7,367.8 738.6,367.9 739.5,368.1 740.4,368.2 741.3,368.4 742.1,368.5 743.0,368.6 743.9,368.8 744.8,368.9 745.6,369.0 746.5,369.1 747.4,369.3 748.3,369.4 749.2,369.5 750.0,369.6 750.9,369.7 751.8,369.8 752.7,369.9 753.5,370.0 754.4,370.1 755.3,370.2 756.2,370.3 761.1,244.2 762.0,254.1 762.8,263.2 763.7,271.4 764.6,278.6 765.5,285.1 766.3,291.3 767.2,297.0 768.1,302.1 769.0,306.6 769.9,310.4 770.7,313.8 771.6,316.9 772.5,319.6 773.4,322.1 774.2,324.4 775.1,326.5 776.0,328.4 776.9,330.2 777.7,331.9 778.6,333.5 779.5,334.9 780.4,336.3 781.3,337.6 782.1,338.8 783.0,340.0 783.9,341.1 784.8,342.2 785.6,343.2 786.5,344.1 787.4,345.1 788.3,345.9 789.2,346.7 790.0,347.5 790.9,348.2 791.8,348.9 792.7,349.6 793.5,350.2 794.4,350.8 795.3,351.4 796.2,351.9 797.0,352.4 797.9,352.9 798.8,353.3 799.7,353.8 800.6,354.2 801.4,354.6 802.3,355.0 803.2,355.3 804.1,355.7 804.9,356.0 805.8,356.4 806.7,356.7 807.6,357.0 808.4,357.3 809.3,357.6 810.2,357.8 811.1,358.1 812.0,358.4 812.8,358.6 813.7,358.9 814.6,359.2 815.5,359.4 816.3,359.6 817.2,359.9 818.1,360.1 819.0,360.3 819.8,360.5 820.7,360.8 821.6,361.0 822.5,361.2 823.4,361.4 824.2,361.6 825.1,361.8 826.0,362.0 826.9,362.2 827.7,362.3 828.6,362.5 829.5,362.7 830.4,362.9 831.2,363.0 832.1,363.2 833.0,363.4 833.9,363.5 834.8,363.7 835.6,363.8 840.0,251.8 840.9,258.3 841.8,264.1 842.6,269.5 843.5,274.2 844.4,278.5 845.3,282.4 846.1,286.0 847.0,289.2 847.9,292.3 848.8,295.1 849.6,297.8 850.5,300.3 851.4,302.7 852.2,305.0 853.1,307.2 854.0,309.3 854.9,311.3 855.7,313.2 856.6,315.1 857.5,317.0 858.4,319.0 859.2,320.9 860.1,322.7 861.0,324.5 861.9,326.2 862.7,327.7 863.6,329.2 864.5,330.6 865.4,331.9 866.2,333.1 867.1,334.2 868.0,335.3 868.9,336.2 869.7,337.1 870.6,337.9 871.5,338.7 872.3,339.5 873.2,340.2 874.1,340.8 875.0,341.5 875.8,342.1 876.7,342.7 877.6,343.3 878.5,343.8 879.3,344.4 880.2,344.9 881.1,345.4 882.0,345.8 882.8,346.3 883.7,346.8 884.6,347.2 885.5,347.6 886.3,348.0 887.2,348.4 888.1,348.8 889.0,349.2 889.8,349.6 890.7,349.9 891.6,350.3 892.4,350.6 893.3,351.0 894.2,351.3 895.1,351.6 895.9,351.9 896.8,352.2 897.7,352.5 898.6,352.8 899.4,353.1 900.3,353.4 901.2,353.7 902.1,353.9 902.9,354.2 903.8,354.4 904.7,354.7 905.6,354.9 906.4,355.2 907.3,355.4 908.2,355.6 909.1,355.8 909.9,356.1 910.8,356.3 911.7,356.5 912.6,356.7 913.4,356.9 914.3,357.1 918.7,268.6 919.5,270.4 920.4,273.0 921.3,275.8 922.2,278.7 923.0,281.5 923.9,284.1 924.8,286.6 925.6,288.9 926.5,291.0 927.4,293.0 928.3,295.1 929.1,297.2 930.0,299.4 930.9,301.5 931.7,303.6 932.6,305.6 933.5,307.6 934.4,309.4 935.2,311.2 936.1,312.8 937.0,314.4 937.8,315.9 938.7,317.3 939.6,318.6 940.4,319.9 941.3,321.1 942.2,322.3 943.1,323.5 943.9,324.6 944.8,325.7 945.7,326.8 946.5,327.8 947.4,328.8 948.3,329.8 949.2,330.7 950.0,331.6 950.9,332.5 951.8,333.3 952.6,334.1 953.5,334.9 954.4,335.6 955.3,336.3 956.1,337.0 957.0,337.7 957.9,338.3 958.7,338.9 959.6,339.4 960.5,340.0 961.3,340.5 962.2,341.0 963.1,341.5 964.0,342.0 964.8,342.4 965.7,342.9 966.6,343.3 967.4,343.7 968.3,344.1 969.2,344.5 970.1,344.9 970.9,345.3 971.8,345.6 972.7,346.0 973.5,346.3 974.4,346.6 975.3,347.0 976.2,347.3 977.0,347.6 977.9,347.9 978.8,348.2 979.6,348.5 980.5,348.8 981.4,349.0 982.2,349.3 983.1,349.6 984.0,349.8 984.9,350.1 985.7,350.3 986.6,350.5 987.5,350.8 988.3,351.0 989.2,351.2 990.1,351.5 991.0,351.7 991.8,351.9 992.7,352.1 997.1,284.5 997.9,286.1 998.8,287.8 999.7,289.5 1000.5,291.2 1001.4,292.7 1002.3,294.2 1003.1,295.5 1004.0,296.8 1004.9,298.1 1005.7,299.4 1006.6,300.7 1007.5,302.0 1008.3,303.2 1009.2,304.4 1010.1,305.5 1010.9,306.6 1011.8,307.7 1012.7,308.8 1013.5,309.9 1014.4,310.9 1015.3,311.9 1016.1,312.9 1017.0,313.9 1017.9,314.9 1018.7,315.8 1019.6,316.7 1020.5,317.6 1021.3,318.4 1022.2,319.3 1023.1,320.1 1023.9,320.9 1024.8,321.7 1025.7,322.5 1026.5,323.3 1027.4,324.1 1028.3,324.9 1029.1,325.6 1030.0,326.4 1030.9,327.1 1031.7,327.8 1032.6,328.6 1033.5,329.2 1034.3,329.9 1035.2,330.6 1036.1,331.2" fill="none" stroke="#000000" stroke-width="3.6" stroke-linecap="butt" stroke-linejoin="round"/>
<polyline clip-path="url(#clipb)" points="598.5,380.3 599.4,380.3 600.3,380.3 601.1,380.3 602.0,380.3 602.9,380.3 603.8,380.3 604.6,380.3 605.5,380.3 606.4,380.3 607.3,380.3 608.1,380.3 609.0,380.3 609.9,380.3 610.8,380.3 611.6,380.3 612.5,380.3 613.4,380.3 614.3,380.3 615.1,380.3 616.0,380.3 616.9,380.3 617.8,380.3 618.6,380.3 619.5,380.3 620.4,380.3 621.3,380.3 622.2,380.3 623.0,380.3 623.9,380.3 624.8,380.3 625.7,380.3 626.5,380.3 627.4,380.3 628.3,380.3 629.2,380.3 630.0,380.3 630.9,380.3 631.8,380.3 632.7,380.3 633.5,380.3 634.4,380.3 635.3,380.3 636.2,380.3 637.0,380.3 637.9,380.3 638.8,380.3 639.7,380.3 640.5,380.3 641.4,380.3 642.3,380.3 643.2,380.3 644.1,380.3 644.9,380.3 645.8,380.3 646.7,380.3 647.6,380.3 648.4,380.3 649.3,380.3 650.2,380.3 651.1,380.3 655.2,310.6 656.1,317.8 656.9,324.0 657.8,329.3 658.7,333.9 659.6,337.8 660.5,341.3 661.3,344.5 662.2,347.4 663.1,349.9 664.0,352.2 664.9,354.1 665.7,355.8 666.6,357.3 667.5,358.7 668.4,359.8 669.3,360.9 670.2,361.9 671.0,362.8 671.9,363.6 672.8,364.4 673.7,365.1 674.6,365.7 675.4,366.3 676.3,366.8 677.2,367.2 678.1,367.7 679.0,368.0 679.8,368.4 680.7,368.7 681.6,368.9 682.5,369.2 683.4,369.4 684.2,369.6 685.1,369.8 686.0,370.0 686.9,370.2 687.8,370.4 688.7,370.5 689.5,370.7 690.4,370.8 691.3,370.9 692.2,371.1 693.1,371.2 693.9,371.3 694.8,371.4 695.7,371.5 696.6,371.6 697.5,371.7 698.3,371.8 699.2,371.8 700.1,371.9 701.0,372.0 701.9,372.0 702.7,372.1 708.0,279.5 708.9,288.2 709.8,295.6 710.6,301.9 711.5,307.4 712.4,312.2 713.3,316.4 714.1,320.1 715.0,323.5 715.9,326.5 716.8,329.3 717.6,331.9 718.5,334.3 719.4,336.5 720.3,338.6 721.1,340.6 722.0,342.4 722.9,344.1 723.8,345.7 724.6,347.1 725.5,348.5 726.4,349.7 727.3,350.9 728.1,352.0 729.0,353.0 729.9,353.9 730.8,354.8 731.7,355.6 732.5,356.3 733.4,357.1 734.3,357.7 735.2,358.4 736.0,359.0 736.9,359.6 737.8,360.2 738.7,360.7 739.5,361.2 740.4,361.7 741.3,362.2 742.2,362.7 743.0,363.1 743.9,363.6 744.8,364.0 745.7,364.4 746.5,364.8 747.4,365.1 748.3,365.5 749.2,365.8 750.0,366.2 750.9,366.5 751.8,366.8 752.7,367.1 753.6,367.4 754.4,367.7 755.3,368.0 756.2,368.2 757.1,368.5 757.9,368.7 758.8,369.0 759.7,369.2 760.6,369.4 764.9,304.2 765.8,307.0 766.7,310.0 767.6,312.9 768.5,315.6 769.4,318.1 770.2,320.5 771.1,322.7 772.0,324.9 772.9,327.0 773.8,329.0 774.7,330.9 775.5,332.7 776.4,334.4 777.3,336.0 778.2,337.5 779.1,338.9 780.0,340.2 780.9,341.5 781.7,342.6 782.6,343.8 783.5,344.9 784.4,346.1 785.3,347.1 786.2,348.1 787.0,349.1 787.9,350.1 788.8,350.9 789.7,351.8 790.6,352.5 791.5,353.3 792.3,354.0 793.2,354.6 794.1,355.2 795.0,355.8 795.9,356.3 796.8,356.8 797.7,357.3 798.5,357.8 799.4,358.2 800.3,358.7 801.2,359.1 802.1,359.5 803.0,359.9 803.8,360.2 804.7,360.6 805.6,360.9 806.5,361.3 807.4,361.6 808.3,361.9 809.1,362.2 810.0,362.5 810.9,362.7 811.8,363.0 812.7,363.3 817.5,310.0 818.4,311.4 819.3,313.2 820.1,315.1 821.0,317.1 821.9,319.1 822.8,320.9 823.6,322.7 824.5,324.5 825.4,326.1 826.3,327.6 827.1,329.0 828.0,330.3 828.9,331.6 829.8,332.8 830.6,333.9 831.5,334.9 832.4,335.9 833.3,336.8 834.1,337.7 835.0,338.6 835.9,339.5 836.8,340.4 837.6,341.3 838.5,342.2 839.4,343.1 840.3,344.0 841.2,344.8 842.0,345.7 842.9,346.4 843.8,347.2 844.7,347.9 845.5,348.6 846.4,349.2 847.3,349.8 848.2,350.4 849.0,350.9 849.9,351.4 850.8,351.9 851.7,352.4 852.5,352.9 853.4,353.3 854.3,353.7 855.2,354.1 856.0,354.5 856.9,354.9 857.8,355.3 858.7,355.7 859.5,356.0 860.4,356.4 861.3,356.7 862.2,357.0 863.1,357.4 863.9,357.7 864.8,358.0 869.8,319.5 870.7,320.2 871.6,321.2 872.4,322.3 873.3,323.3 874.2,324.4 875.1,325.5 876.0,326.5 876.8,327.4 877.7,328.3 878.6,329.2 879.5,330.0 880.4,330.8 881.2,331.5 882.1,332.2 883.0,332.8 883.9,333.4 884.8,334.0 885.6,334.6 886.5,335.3 887.4,335.9 888.3,336.5 889.2,337.1 890.0,337.7 890.9,338.3 891.8,338.9 892.7,339.4 893.6,340.0 894.4,340.5 895.3,341.1 896.2,341.6 897.1,342.1 898.0,342.6 898.9,343.0 899.7,343.5 900.6,344.0 901.5,344.4 902.4,344.8 903.3,345.3 904.1,345.7 905.0,346.1 905.9,346.5 906.8,346.9 907.7,347.3 908.5,347.7 909.4,348.1 910.3,348.5 911.2,348.9 912.1,349.3 912.9,349.6 913.8,350.0 914.7,350.4 915.6,350.7 916.5,351.1 917.3,351.4 918.2,351.7 919.1,352.0 920.0,352.4 920.9,352.7 921.7,353.0 926.1,329.2 927.0,329.3 927.9,329.7 928.7,330.1 929.6,330.6 930.5,331.2 931.3,331.8 932.2,332.3 933.1,332.9 934.0,333.5 934.8,334.0 935.7,334.5 936.6,335.0 937.4,335.5 938.3,336.0 939.2,336.4 940.0,336.9 940.9,337.3 941.8,337.7 942.7,338.1 943.5,338.4 944.4,338.8 945.3,339.2 946.1,339.6 947.0,340.2 947.9,340.7 948.7,341.3 949.6,341.9 950.5,342.5 951.3,343.1 952.2,343.7 953.1,344.2 954.0,344.8 954.8,345.4 955.7,345.9 956.6,346.4 957.4,346.9 958.3,347.3 959.2,347.8 960.0,348.2 960.9,348.6 961.8,349.0 962.7,349.3 963.5,349.6 964.4,349.9 965.3,350.2 966.1,350.5 967.0,350.7 967.9,350.9 968.7,351.1 969.6,351.3 970.5,351.4 971.4,351.6 972.2,351.7 973.1,351.8 974.0,351.9 974.8,352.0 975.7,352.1 981.8,333.6 982.6,333.9 983.5,334.4 984.4,334.9 985.2,335.5 986.1,336.0 987.0,336.6 987.8,337.1 988.7,337.6 989.6,338.1 990.4,338.6 991.3,339.0 992.2,339.5 993.0,339.9 993.9,340.3 994.8,340.7 995.6,341.0 996.5,341.4 997.4,341.7 998.2,342.1 999.1,342.4 1000.0,342.7 1000.8,343.0 1001.7,343.2 1002.6,343.5 1003.4,343.8 1004.3,344.0 1005.2,344.3 1006.1,344.5 1006.9,344.7 1007.8,345.0 1008.7,345.2 1009.5,345.5 1010.4,345.7 1011.3,346.0 1012.1,346.2 1013.0,346.5 1013.9,346.7 1014.7,347.0 1015.6,347.2 1016.5,347.4 1017.3,347.7 1018.2,347.9 1019.1,348.1 1019.9,348.3 1020.8,348.6 1021.7,348.8 1022.5,349.0 1023.4,349.2 1024.3,349.4 1025.1,349.6 1026.0,349.8 1026.9,350.0 1027.7,350.1 1028.6,350.3 1032.1,340.9 1033.0,340.6 1033.9,340.3" fill="none" stroke="#008000" stroke-width="3.5" stroke-linecap="round" stroke-linejoin="round" stroke-dasharray="5.4 9.0"/>
<polyline clip-path="url(#clipb)" points="598.5,376.5 599.4,376.5 600.3,376.5 601.1,376.5 602.0,376.5 602.9,376.5 603.8,376.5 604.6,376.5 605.5,376.5 606.4,376.5 607.3,376.5 608.1,376.5 609.0,376.5 609.9,376.5 610.8,376.5 611.6,376.5 612.5,376.5 613.4,376.5 614.3,376.5 615.1,376.5 616.0,376.5 616.9,376.5 617.8,376.5 618.6,376.5 619.5,376.5 620.4,376.5 621.3,376.5 622.2,376.5 623.0,376.5 623.9,376.5 624.8,376.5 625.7,376.5 626.5,376.5 627.4,376.5 628.3,376.5 629.2,376.5 630.0,376.5 630.9,376.5 631.8,376.5 632.7,376.5 633.5,376.5 634.4,376.5 635.3,376.5 636.2,376.5 637.0,376.5 637.9,376.5 638.8,376.5 639.7,376.5 640.5,376.5 641.4,376.5 642.3,376.5 643.2,376.5 644.1,376.5 644.9,376.5 645.8,376.5 646.7,376.5 647.6,376.5 648.4,376.5 649.3,376.5 650.2,376.5 651.1,376.5 651.9,376.5 652.8,376.5 653.7,376.5 654.6,376.5 655.4,376.5 656.3,376.5 657.2,376.5 658.1,376.5 658.9,376.5 659.8,376.5 660.7,376.5 661.6,376.5 662.4,376.5 663.3,376.5 664.2,376.5 665.1,376.5 666.0,376.5 666.8,376.5 667.7,376.5 668.6,376.5 669.5,376.5 670.3,376.5 671.2,376.5 672.1,376.5 673.0,376.5 673.8,376.5 674.7,376.5 675.6,376.5 676.5,376.5 677.3,376.5 681.3,158.4 681.5,158.0 681.6,157.6 681.8,157.3 682.0,156.9 682.2,156.5 682.3,156.1 682.5,155.7 682.7,155.4 682.9,155.0 683.1,154.6 683.3,154.2 683.5,153.8 683.7,153.4 684.0,153.0 684.2,152.6 684.4,152.2 684.6,151.8 684.8,151.4 685.1,151.0 685.3,150.6 685.5,150.2 685.8,149.8 686.0,149.4 686.3,149.0 686.5,148.6 686.8,148.2 687.1,147.8 687.3,147.3 687.6,146.9 687.9,146.5 688.1,146.1 688.4,145.7 688.7,145.3 689.0,144.9 689.3,144.5 689.5,144.1 689.8,143.7 690.1,143.4 690.4,143.0 690.7,142.6 691.1,142.3 691.4,142.0 691.7,141.6 692.0,141.3 692.3,141.0 692.6,140.7 693.0,140.4 693.3,140.2 693.6,139.9 694.0,139.7 694.3,139.4 694.7,139.2 695.0,139.0 695.4,138.8 695.7,138.6 696.1,138.5 696.5,138.3 696.8,138.2 697.2,138.0 697.6,137.9 698.0,137.8 698.3,137.7 698.7,137.7 699.1,137.6 699.5,137.6 699.9,137.6 700.3,137.6 700.7,137.6 701.1,137.6 701.5,137.7 701.9,137.7 702.4,137.8 702.8,137.9 703.2,138.0 703.6,138.1 704.1,138.3 704.5,138.4 704.9,138.6 705.4,138.8 705.8,139.0 706.3,139.2 706.7,139.5 707.2,139.7 707.6,140.0 708.1,140.3 708.6,140.6 709.0,141.0 709.5,141.3 710.0,141.7 710.5,142.1 711.0,142.5 711.4,142.9 711.9,143.3 712.4,143.8 712.9,144.3 713.4,144.8 713.9,145.3 714.4,145.8 715.0,146.3 715.5,146.9 716.0,147.4 716.5,148.0 717.0,148.6 717.6,149.2 718.1,149.8 718.6,150.5 719.2,151.1 719.7,151.8 720.3,152.4 720.8,153.1 721.4,153.8 721.9,154.6 722.5,155.3 723.1,156.0 723.6,156.8 724.2,157.6 724.8,158.3 725.3,159.1 725.9,159.9 726.5,160.7 727.1,161.6 727.7,162.4 728.3,163.2 728.9,164.1 729.5,164.9 730.1,165.8 730.7,166.7 731.3,167.5 731.9,168.4 732.6,169.3 733.2,170.2 733.8,171.1 734.4,172.0 735.1,172.9 735.7,173.7 736.4,174.6 737.0,175.5 737.7,176.4 738.3,177.3 739.0,178.2 739.6,179.1 740.3,180.0 741.0,180.9 741.6,181.8 742.3,182.7 743.0,183.6 743.7,184.5 744.3,185.4 745.0,186.3 745.7,187.1 746.4,188.0 747.1,188.9 747.8,189.8 748.5,190.6 749.2,191.5 749.9,192.4 750.7,193.3 751.4,194.1 752.1,195.0 752.8,195.8 753.6,196.7 754.3,197.6 755.0,198.4 755.8,199.3 756.5,200.1 757.3,201.0 758.0,201.8 758.8,202.7 759.5,203.5 760.3,204.4 761.0,205.2 761.8,206.1 762.6,206.9 763.4,207.8 764.1,208.6 764.9,209.4 765.7,210.3 766.5,211.1 767.3,211.9 768.1,212.8 768.9,213.6 769.7,214.4 770.5,215.2 771.3,216.0 772.1,216.8 772.9,217.6 773.8,218.4 774.6,219.2 775.4,219.9 776.2,220.7 777.1,221.5 777.9,222.2 778.8,223.0 779.6,223.8 780.4,224.5 781.3,225.3 782.2,226.0 783.0,226.7 783.9,227.5 784.7,228.2 785.6,228.9 786.5,229.6 787.4,230.3 788.2,231.0 789.1,231.7 790.0,232.4 790.9,233.1 791.8,233.8 792.7,234.4 793.6,235.1 794.5,235.8 795.4,236.4 796.3,237.1 797.2,237.8 798.2,238.4 799.1,239.1 800.0,239.7 800.9,240.3 801.9,241.0 802.8,241.6 803.8,242.3 804.7,242.9 805.6,243.5 806.6,244.2 807.6,244.8 808.5,245.4 809.5,246.1 810.4,246.7 811.4,247.3 812.4,248.0 813.4,248.6 814.3,249.2 815.3,249.9 816.3,250.5 817.3,251.2 818.3,251.8 819.3,252.4 820.3,253.1 821.3,253.7 822.3,254.4 823.3,255.0 824.3,255.6 825.3,256.3 826.4,256.9 827.4,257.5 828.4,258.1 829.4,258.7 830.5,259.4 831.5,260.0 832.5,260.6 833.6,261.2 834.6,261.8 835.7,262.3 836.8,262.9 837.8,263.5 838.9,264.0 839.9,264.6 841.0,265.1 842.1,265.7 843.2,266.2 844.2,266.7 845.3,267.3 846.4,267.8 847.5,268.3 848.6,268.8 849.7,269.3 850.8,269.8 851.9,270.2 853.0,270.7 854.1,271.2 855.2,271.7 856.4,272.1 857.5,272.6 858.6,273.0 859.7,273.5 860.9,273.9 862.0,274.4 863.2,274.8 864.3,275.2 865.4,275.7 866.6,276.1 867.7,276.5 868.9,276.9 870.1,277.4 871.2,277.8 872.4,278.2 873.6,278.6 874.7,279.0 875.9,279.4 877.1,279.9 878.3,280.3 879.5,280.7 880.7,281.1 881.9,281.5 883.1,281.9 884.3,282.3 885.5,282.8 886.7,283.2 887.9,283.6 889.1,284.0 890.3,284.4 891.6,284.8 892.8,285.2 894.0,285.6 895.3,286.0 896.5,286.4 897.7,286.8 899.0,287.2 900.2,287.6 901.5,288.0 902.8,288.4 904.0,288.8 905.3,289.2 906.5,289.6 907.8,290.0 909.1,290.4 910.4,290.8 911.6,291.2 912.9,291.6 914.2,292.0 915.5,292.3 916.8,292.7 918.1,293.1 919.4,293.5 920.7,293.8 922.0,294.2 923.3,294.6 924.6,294.9 926.0,295.3 927.3,295.7 928.6,296.0 929.9,296.4 931.3,296.7 932.6,297.1 934.0,297.4 935.3,297.8 936.6,298.1 938.0,298.5 939.3,298.8 940.7,299.2 942.1,299.5 943.4,299.8 944.8,300.2 946.2,300.5 947.5,300.8 948.9,301.1 950.3,301.5 951.7,301.8 953.1,302.1 954.5,302.4 955.9,302.7 957.3,303.1 958.7,303.4 960.1,303.7 961.5,304.0 962.9,304.3 964.3,304.6 965.7,304.9 967.2,305.2 968.6,305.5 970.0,305.8 971.5,306.1 972.9,306.4 974.3,306.7 975.8,306.9 977.2,307.2 978.7,307.5 980.2,307.8 981.6,308.1 983.1,308.4 984.5,308.6 986.0,308.9 987.5,309.2 989.0,309.5 990.4,309.7 991.9,310.0 993.4,310.3 994.9,310.5 996.4,310.8 997.9,311.0 999.4,311.3 1000.9,311.6 1002.4,311.8 1003.9,312.1 1005.4,312.3 1007.0,312.6 1008.5,312.8 1010.0,313.1 1011.5,313.3 1013.1,313.6 1014.6,313.8 1016.2,314.1 1017.7,314.3 1019.2,314.6 1020.8,314.8 1022.4,315.1 1023.9,315.3 1025.5,315.5 1027.0,315.8 1028.6,316.0 1030.2,316.3 1031.8,316.5 1033.3,316.8 1034.9,317.0 1036.5,317.2" fill="none" stroke="#0000ff" stroke-width="3.6" stroke-linecap="butt" stroke-linejoin="round"/>
<polyline clip-path="url(#clipb)" points="598.5,377.4 599.4,377.4 600.3,377.4 601.1,377.4 602.0,377.4 602.9,377.4 603.8,377.4 604.6,377.4 605.5,377.4 606.4,377.4 607.3,377.4 608.1,377.4 609.0,377.4 609.9,377.4 610.8,377.4 611.6,377.4 612.5,377.4 613.4,377.4 614.3,377.4 615.1,377.4 616.0,377.4 616.9,377.4 617.8,377.4 618.6,377.4 619.5,377.4 620.4,377.4 621.3,377.4 622.2,377.4 623.0,377.4 623.9,377.4 624.8,377.4 625.7,377.4 626.5,377.4 627.4,377.4 628.3,377.4 629.2,377.4 630.0,377.4 630.9,377.4 631.8,377.4 632.7,377.4 633.5,377.4 634.4,377.4 635.3,377.4 636.2,377.4 637.0,377.4 637.9,377.4 638.8,377.4 639.7,377.4 640.5,377.4 641.4,377.4 642.3,377.4 643.2,377.4 644.1,377.4 644.9,377.4 645.8,377.4 646.7,377.4 647.6,377.4 648.4,377.4 649.3,377.4 650.2,377.4 651.1,377.4 651.9,351.5 652.8,292.7 653.7,272.6 654.6,260.3 655.4,253.4 656.3,248.9 657.2,245.6 658.1,242.7 658.9,239.9 659.8,237.5 660.7,235.3 661.6,233.0 662.4,230.4 663.3,227.3 664.2,223.6 665.1,219.6 666.0,215.6 666.8,211.8 667.7,208.2 668.6,204.5 669.5,200.9 670.3,197.6 671.2,194.9 672.1,192.7 673.0,190.7 673.8,188.8 674.7,187.0 675.6,185.4 676.5,183.9 677.3,182.7 678.2,181.7 679.1,181.0 680.0,180.4 680.8,179.8 681.7,179.3 682.6,178.7 683.5,178.3 684.3,177.8 685.2,177.4 686.1,177.1 687.0,176.7 687.9,176.5 688.7,176.3 689.6,176.1 690.5,176.0 691.4,176.0 692.2,176.0 693.1,176.0 694.0,176.1 694.9,176.2 695.7,176.4 696.6,176.5 697.5,176.7 698.4,176.9 699.2,177.1 700.1,177.3 701.0,177.5 701.9,177.8 702.7,178.0 703.6,178.3 704.5,178.5 705.4,178.8 706.2,179.0 707.1,179.3 708.0,179.5 708.9,179.8 709.8,180.0 710.6,180.3 711.5,180.6 712.4,180.9 713.3,181.3 714.1,181.6 715.0,182.0 715.9,182.3 716.8,182.7 717.6,183.1 718.5,183.5 719.4,183.8 720.3,184.2 721.1,184.6 722.0,185.0 722.9,185.4 723.8,185.8 724.6,186.2 725.5,186.6 726.4,186.9 727.3,187.3 728.1,187.7 729.0,188.0 729.9,188.3 730.8,188.7 731.7,189.0 732.5,189.3 733.4,189.6 734.3,189.9 735.2,190.2 736.0,190.5 736.9,190.8 737.8,191.1 738.7,191.4 739.5,191.7 740.4,192.0 741.3,192.3 742.2,192.6 743.0,192.9 743.9,193.2 744.8,193.4 745.7,193.7 746.5,194.0 747.4,194.3 748.3,194.6 749.2,194.9 750.0,195.2 750.9,195.5 751.8,195.8 752.7,196.1 753.6,196.4 754.4,196.7 755.3,197.0 756.2,197.3 757.1,197.6 757.9,198.0 758.8,198.3 759.7,198.6 760.6,199.0 761.4,199.3 762.3,199.7 763.2,200.1 764.1,200.4 764.9,200.8 765.8,201.2 766.7,201.6 767.6,202.0 768.4,202.4 769.3,202.7 770.2,203.1 771.1,203.5 771.9,203.8 772.8,204.2 773.7,204.5 774.6,204.8 775.5,205.1 776.3,205.4 777.2,205.7 778.1,205.9 779.0,206.2 779.8,206.5 780.7,206.8 781.6,207.0 782.5,207.3 783.3,207.5 784.2,207.8 785.1,208.1 786.0,208.3 786.8,208.5 787.7,208.8 788.6,209.0 789.5,209.3 790.3,209.5 791.2,209.7 792.1,210.0 793.0,210.2 793.8,210.4 794.7,210.7 795.6,210.9 796.5,211.1 797.4,211.3 798.2,211.5 799.1,211.7 800.0,212.0 800.9,212.2 801.7,212.4 802.6,212.6 803.5,212.8 804.4,213.0 805.2,213.2 806.1,213.4 807.0,213.6 807.9,213.8 808.7,214.0 809.6,214.2 810.5,214.4 811.4,214.6 812.2,214.8 813.1,215.0 814.0,215.2 814.9,215.4 815.7,215.6 816.6,215.8 817.5,215.9 818.4,216.1 819.3,216.3 820.1,216.5 821.0,216.7 821.9,216.9 822.8,217.1 823.6,217.2 824.5,217.4 825.4,217.6 826.3,217.8 827.1,218.0 828.0,218.1 828.9,218.3 829.8,218.5 830.6,218.7 831.5,218.8 832.4,219.0 833.3,219.2 834.1,219.3 835.0,219.5 835.9,219.7 836.8,219.9 837.6,220.0 838.5,220.2 839.4,220.3 840.3,220.5 841.2,220.7 842.0,220.8 842.9,221.0 843.8,221.2 844.7,221.3 845.5,221.5 846.4,221.6 847.3,221.8 848.2,221.9 849.0,222.1 849.9,222.3 850.8,222.4 851.7,222.6 852.5,222.7 853.4,222.9 854.3,223.0 855.2,223.2 856.0,223.3 856.9,223.5 857.8,223.6 858.7,223.8 859.5,223.9 860.4,224.1 861.3,224.2 862.2,224.3 863.1,224.5 863.9,224.6 864.8,224.8 865.7,224.9 866.6,225.0 867.4,225.2 868.3,225.3 869.2,225.5 870.1,225.6 870.9,225.7 871.8,225.9 872.7,226.0 873.6,226.1 874.4,226.3 875.3,226.4 876.2,226.5 877.1,226.6 877.9,226.8 878.8,226.9 879.7,227.0 880.6,227.1 881.4,227.3 882.3,227.4 883.2,227.5 884.1,227.6 885.0,227.8 885.8,227.9 886.7,228.0 887.6,228.1 888.5,228.3 889.3,228.4 890.2,228.5 891.1,228.6 892.0,228.7 892.8,228.9 893.7,229.0 894.6,229.1 895.5,229.2 896.3,229.3 897.2,229.5 898.1,229.6 899.0,229.7 899.8,229.8 900.7,229.9 901.6,230.0 902.5,230.2 903.3,230.3 904.2,230.4 905.1,230.5 906.0,230.6 906.9,230.8 907.7,230.9 908.6,231.0 909.5,231.1 910.4,231.3 911.2,231.4 912.1,231.5 913.0,231.6 913.9,231.7 914.7,231.9 915.6,232.0 916.5,232.1 917.4,232.2 918.2,232.4 919.1,232.5 920.0,232.6 920.9,232.7 921.7,232.9 922.6,233.0 923.5,233.1 924.4,233.3 925.2,233.4 926.1,233.5 927.0,233.6 927.9,233.8 928.8,233.9 929.6,234.0 930.5,234.2 931.4,234.3 932.3,234.4 933.1,234.6 934.0,234.7 934.9,234.8 935.8,234.9 936.6,235.1 937.5,235.2 938.4,235.3 939.3,235.5 940.1,235.6 941.0,235.7 941.9,235.9 942.8,236.0 943.6,236.1 944.5,236.2 945.4,236.4 946.3,236.5 947.1,236.6 948.0,236.8 948.9,236.9 949.8,237.0 950.7,237.1 951.5,237.3 952.4,237.4 953.3,237.5 954.2,237.7 955.0,237.8 955.9,237.9 956.8,238.0 957.7,238.2 958.5,238.3 959.4,238.4 960.3,238.6 961.2,238.7 962.0,238.8 962.9,238.9 963.8,239.1 964.7,239.2 965.5,239.3 966.4,239.4 967.3,239.6 968.2,239.7 969.0,239.8 969.9,239.9 970.8,240.1 971.7,240.2 972.6,240.3 973.4,240.4 974.3,240.5 975.2,240.7 976.1,240.8 976.9,240.9 977.8,241.0 978.7,241.1 979.6,241.3 980.4,241.4 981.3,241.5 982.2,241.6 983.1,241.7 983.9,241.9 984.8,242.0 985.7,242.1 986.6,242.2 987.4,242.3 988.3,242.4 989.2,242.6 990.1,242.7 990.9,242.8 991.8,242.9 992.7,243.0 993.6,243.1 994.5,243.3 995.3,243.4 996.2,243.5 997.1,243.6 998.0,243.7 998.8,243.8 999.7,244.0 1000.6,244.1 1001.5,244.2 1002.3,244.3 1003.2,244.4 1004.1,244.5 1005.0,244.6 1005.8,244.8 1006.7,244.9 1007.6,245.0 1008.5,245.1 1009.3,245.2 1010.2,245.3 1011.1,245.4 1012.0,245.5 1012.8,245.7 1013.7,245.8 1014.6,245.9 1015.5,246.0 1016.4,246.1 1017.2,246.2 1018.1,246.3 1019.0,246.4 1019.9,246.5 1020.7,246.7 1021.6,246.8 1022.5,246.9 1023.4,247.0 1024.2,247.1 1025.1,247.2 1026.0,247.3 1026.9,247.4 1027.7,247.5 1028.6,247.6 1029.5,247.7 1030.4,247.9 1031.2,248.0 1032.1,248.1 1033.0,248.2 1033.9,248.3 1034.7,248.4 1035.6,248.5 1036.5,248.6" fill="none" stroke="#000080" stroke-width="3.5" stroke-linecap="round" stroke-linejoin="round" stroke-dasharray="5.4 9.0" stroke-dashoffset="9.68"/>
<polyline clip-path="url(#clipb)" points="598.5,377.4 599.4,377.4 600.3,377.4 601.1,377.4 602.0,377.4 602.9,377.4 603.8,377.4 604.6,377.4 605.5,377.4 606.4,377.4 607.3,377.4 608.1,377.4 609.0,377.4 609.9,377.4 610.8,377.4 611.6,377.4 612.5,377.4 613.4,377.4 614.3,377.4 615.1,377.4 616.0,377.4 616.9,377.4 617.8,377.4 618.6,377.4 619.5,377.4 620.4,377.4 621.3,377.4 622.2,377.4 623.0,377.4 623.9,377.4 624.8,377.4 625.7,377.4 626.5,377.4 627.4,377.4 628.3,377.4 629.2,377.4 630.0,377.4 630.9,377.4 631.8,377.4 632.7,377.4 633.5,377.4 634.4,377.4 635.3,377.4 636.2,377.4 637.0,377.4 637.9,377.4 638.8,377.4 639.7,377.4 640.5,377.4 641.4,377.4 642.3,377.4 643.2,377.4 644.1,377.4 644.9,377.4 645.8,377.4 646.7,377.4 647.6,377.4 648.4,377.4 649.3,377.4 650.2,377.4 651.1,377.4 651.9,351.5 652.8,292.7 653.7,272.2 654.6,259.6 655.4,253.9 656.3,250.7 657.2,248.4 658.1,246.6 658.9,245.1 659.8,243.5 660.7,242.1 661.6,240.8 662.4,239.6 663.3,238.5 664.2,237.6 665.1,236.8 666.0,236.2 666.8,235.5 667.7,234.9 668.6,234.3 669.5,233.8 670.3,233.3 671.2,232.9 672.1,232.6 673.0,232.5 673.8,232.4 674.7,232.5 675.6,232.7 676.5,233.1 677.3,233.5 678.2,233.9 679.1,234.5 680.0,235.1 680.8,235.6 681.7,236.2 682.6,236.8 683.5,237.5 684.3,238.2 685.2,239.0 686.1,239.8 687.0,240.7 687.9,241.7 688.7,242.7 689.6,243.8 690.5,244.9 691.4,246.0 692.2,247.1 693.1,248.2 694.0,249.3 694.9,250.4 695.7,251.5 696.6,252.5 697.5,253.5 698.4,254.5 699.2,255.4 700.1,256.3 701.0,257.3 701.9,258.2 702.7,259.2 703.6,260.1 704.5,261.0 705.4,262.0 706.2,262.9 707.1,263.8 708.0,264.8 708.9,265.7 709.8,266.6 710.6,267.5 711.5,268.4 712.4,269.3 713.3,270.1 714.1,271.0 715.0,271.8 715.9,272.6 716.8,273.5 717.6,274.3 718.5,275.0 719.4,275.8 720.3,276.5 721.1,277.3 722.0,278.0 722.9,278.7 723.8,279.4 724.6,280.1 725.5,280.8 726.4,281.4 727.3,282.1 728.1,282.8 729.0,283.4 729.9,284.1 730.8,284.7 731.7,285.3 732.5,285.9 733.4,286.5 734.3,287.1 735.2,287.7 736.0,288.3 736.9,288.9 737.8,289.4 738.7,290.0 739.5,290.5 740.4,291.1 741.3,291.6 742.2,292.1 743.0,292.6 743.9,293.1 744.8,293.6 745.7,294.1 746.5,294.6 747.4,295.0 748.3,295.5 749.2,296.0 750.0,296.4 750.9,296.9 751.8,297.3 752.7,297.7 753.6,298.1 754.4,298.6 755.3,299.0 756.2,299.4 757.1,299.8 757.9,300.2 758.8,300.6 759.7,301.0 760.6,301.4 761.4,301.8 762.3,302.2 763.2,302.6 764.1,303.0 764.9,303.4 765.8,303.8 766.7,304.1 767.6,304.5 768.4,304.9 769.3,305.3 770.2,305.6 771.1,306.0 771.9,306.4 772.8,306.7 773.7,307.1 774.6,307.4 775.5,307.8 776.3,308.1 777.2,308.5 778.1,308.8 779.0,309.2 779.8,309.5 780.7,309.8 781.6,310.2 782.5,310.5 783.3,310.8 784.2,311.2 785.1,311.5 786.0,311.8 786.8,312.1 787.7,312.5 788.6,312.8 789.5,313.1 790.3,313.4 791.2,313.7 792.1,314.1 793.0,314.4 793.8,314.7 794.7,315.0 795.6,315.3 796.5,315.6 797.4,315.9 798.2,316.3 799.1,316.6 800.0,316.9 800.9,317.2 801.7,317.5 802.6,317.8 803.5,318.0 804.4,318.3 805.2,318.6 806.1,318.9 807.0,319.2 807.9,319.4 808.7,319.7 809.6,320.0 810.5,320.2 811.4,320.5 812.2,320.7 813.1,321.0 814.0,321.2 814.9,321.5 815.7,321.7 816.6,321.9 817.5,322.1 818.4,322.4 819.3,322.6 820.1,322.8 821.0,323.0 821.9,323.3 822.8,323.5 823.6,323.7 824.5,323.9 825.4,324.1 826.3,324.3 827.1,324.5 828.0,324.7 828.9,324.9 829.8,325.1 830.6,325.3 831.5,325.5 832.4,325.7 833.3,325.9 834.1,326.1 835.0,326.3 835.9,326.5 836.8,326.7 837.6,326.9 838.5,327.0 839.4,327.2 840.3,327.4 841.2,327.6 842.0,327.8 842.9,328.0 843.8,328.1 844.7,328.3 845.5,328.5 846.4,328.7 847.3,328.8 848.2,329.0 849.0,329.2 849.9,329.4 850.8,329.5 851.7,329.7 852.5,329.9 853.4,330.0 854.3,330.2 855.2,330.4 856.0,330.5 856.9,330.7 857.8,330.9 858.7,331.0 859.5,331.2 860.4,331.3 861.3,331.5 862.2,331.7 863.1,331.8 863.9,332.0 864.8,332.1 865.7,332.3 866.6,332.5 867.4,332.6 868.3,332.8 869.2,332.9 870.1,333.1 870.9,333.2 871.8,333.4 872.7,333.6 873.6,333.7 874.4,333.9 875.3,334.0 876.2,334.2 877.1,334.3 877.9,334.5 878.8,334.6 879.7,334.8 880.6,334.9 881.4,335.1 882.3,335.2 883.2,335.4 884.1,335.5 885.0,335.6 885.8,335.8 886.7,335.9 887.6,336.1 888.5,336.2 889.3,336.4 890.2,336.5 891.1,336.6 892.0,336.8 892.8,336.9 893.7,337.0 894.6,337.2 895.5,337.3 896.3,337.5 897.2,337.6 898.1,337.7 899.0,337.9 899.8,338.0 900.7,338.1 901.6,338.2 902.5,338.4 903.3,338.5 904.2,338.6 905.1,338.8 906.0,338.9 906.9,339.0 907.7,339.1 908.6,339.3 909.5,339.4 910.4,339.5 911.2,339.6 912.1,339.7 913.0,339.9 913.9,340.0 914.7,340.1 915.6,340.2 916.5,340.3 917.4,340.5 918.2,340.6 919.1,340.7 920.0,340.8 920.9,340.9 921.7,341.0 922.6,341.1 923.5,341.2 924.4,341.3 925.2,341.5 926.1,341.6 927.0,341.7 927.9,341.8 928.8,341.9 929.6,342.0 930.5,342.1 931.4,342.2 932.3,342.3 933.1,342.4 934.0,342.5 934.9,342.6 935.8,342.7 936.6,342.8 937.5,342.9 938.4,343.0 939.3,343.1 940.1,343.2 941.0,343.3 941.9,343.4 942.8,343.5 943.6,343.6 944.5,343.7 945.4,343.8 946.3,343.9 947.1,344.0 948.0,344.1 948.9,344.2 949.8,344.3 950.7,344.4 951.5,344.5 952.4,344.6 953.3,344.7 954.2,344.8 955.0,344.8 955.9,344.9 956.8,345.0 957.7,345.1 958.5,345.2 959.4,345.3 960.3,345.4 961.2,345.5 962.0,345.6 962.9,345.6 963.8,345.7 964.7,345.8 965.5,345.9 966.4,346.0 967.3,346.1 968.2,346.1 969.0,346.2 969.9,346.3 970.8,346.4 971.7,346.5 972.6,346.6 973.4,346.6 974.3,346.7 975.2,346.8 976.1,346.9 976.9,347.0 977.8,347.0 978.7,347.1 979.6,347.2 980.4,347.3 981.3,347.3 982.2,347.4 983.1,347.5 983.9,347.6 984.8,347.7 985.7,347.7 986.6,347.8 987.4,347.9 988.3,348.0 989.2,348.0 990.1,348.1 990.9,348.2 991.8,348.2 992.7,348.3 993.6,348.4 994.5,348.5 995.3,348.5 996.2,348.6 997.1,348.7 998.0,348.8 998.8,348.8 999.7,348.9 1000.6,349.0 1001.5,349.0 1002.3,349.1 1003.2,349.2 1004.1,349.2 1005.0,349.3 1005.8,349.4 1006.7,349.5 1007.6,349.5 1008.5,349.6 1009.3,349.7 1010.2,349.7 1011.1,349.8 1012.0,349.8 1012.8,349.9 1013.7,350.0 1014.6,350.0 1015.5,350.1 1016.4,350.2 1017.2,350.2 1018.1,350.3 1019.0,350.4 1019.9,350.4 1020.7,350.5 1021.6,350.5 1022.5,350.6 1023.4,350.7 1024.2,350.7 1025.1,350.8 1026.0,350.8 1026.9,350.9 1027.7,351.0 1028.6,351.0 1029.5,351.1 1030.4,351.1 1031.2,351.2 1032.1,351.2 1033.0,351.3 1033.9,351.3 1034.7,351.4 1035.6,351.4 1036.5,351.5" fill="none" stroke="#8000ff" stroke-width="3.5" stroke-linecap="round" stroke-linejoin="round" stroke-dasharray="5.4 9.0" stroke-dashoffset="9.68"/>
<line x1="598.2" x2="1037.0" y1="381.6" y2="381.6" stroke="#ff00ff" stroke-width="5.4"/>
<line x1="598.2" x2="1037.0" y1="381.6" y2="381.6" stroke="#800080" stroke-width="3.0" stroke-dasharray="5.4 9.0" stroke-dashoffset="11.7" stroke-linecap="round"/>
<text x="599.00" y="412.9" font-size="23" text-anchor="middle">0</text>
<text x="686.50" y="412.9" font-size="23" text-anchor="middle">10</text>
<text x="774.00" y="412.9" font-size="23" text-anchor="middle">20</text>
<text x="861.50" y="412.9" font-size="23" text-anchor="middle">30</text>
<text x="949.00" y="412.9" font-size="23" text-anchor="middle">40</text>
<text x="1036.50" y="412.9" font-size="23" text-anchor="middle">50</text>
<text x="590" y="387.80" font-size="23" text-anchor="end">0</text>
<text x="590" y="270.08" font-size="23" text-anchor="end">4</text>
<text x="590" y="152.36" font-size="23" text-anchor="end">8</text>
<text x="590" y="33.84" font-size="23" text-anchor="end">12</text>
<g fill="#000"><text x="796.62" y="451.50" font-size="22.8" font-style="italic">E</text><text x="810.55" y="451.50" font-size="22.8" font-style="italic">/</text><text x="816.88" y="451.50" font-size="22.8" font-style="italic">E</text><text x="831.31" y="459.02" font-size="13.8">F</text></g>
<g fill="#000" transform="rotate(-90 553.2 222.8)"><text x="506.55" y="222.80" font-size="22.0">ϕ</text><text x="518.13" y="212.35" font-size="12.6">−</text><text x="525.24" y="212.35" font-size="12.6">1</text><text x="531.54" y="222.80" font-size="22.0">(10</text><text x="560.86" y="212.35" font-size="12.6">12</text><text x="573.46" y="222.80" font-size="22.0">s</text><text x="582.03" y="212.35" font-size="12.6">-1</text><text x="592.52" y="222.80" font-size="22.0">)</text></g>
<g fill="#000"><text x="613.70" y="68.30" font-size="26.4">(b)</text></g>
<g fill="#000"><text x="845.63" y="60.80" font-size="22.6" font-style="italic">T</text><text x="858.20" y="60.80" font-size="22.6"> = 77 K, </text><text x="938.11" y="60.80" font-size="22.6" font-style="italic">L</text><text x="950.68" y="60.80" font-size="22.6"> = 100 Å</text></g>
<g fill="#000"><text x="882.80" y="91.80" font-size="22.5" font-style="italic">N</text><text x="898.31" y="99.22" font-size="13.6">s</text><text x="903.60" y="91.80" font-size="22.5"> = 10</text><text x="950.04" y="82.35" font-size="13.6">11</text><text x="963.64" y="91.80" font-size="22.5"> cm</text><text x="996.75" y="82.35" font-size="13.6">-2</text></g>
<line x1="851.3" x2="908.9" y1="168.5" y2="168.5" stroke="#000" stroke-width="3.5"/>
<line x1="851.3" x2="902.4" y1="192.8" y2="192.8" stroke="#000" stroke-width="3.2" stroke-dasharray="9.4 5.1" stroke-dashoffset="1.8"/>
<g fill="#000"><text x="913.90" y="174.00" font-size="22.8" font-style="italic">x</text><text x="924.02" y="174.00" font-size="22.8"> = 0.1</text></g>
<g fill="#000"><text x="913.90" y="198.00" font-size="22.8" font-style="italic">x</text><text x="924.02" y="198.00" font-size="22.8"> = 0.5</text></g>
<g fill="#000"><text x="708.30" y="122.20" font-size="21.3">τ</text><text x="717.36" y="111.90" font-size="12.9">-1</text><text x="717.96" y="129.80" font-size="12.9">LT</text></g>
<line x1="735.7" y1="118.9" x2="806.3" y2="94.8" stroke="#000" stroke-width="1.0"/>
<polygon points="813.9,92.2 806.2,97.5 804.6,92.7" fill="#000"/>
<line x1="732.4" y1="130.9" x2="770.6" y2="197.7" stroke="#000" stroke-width="1.0"/>
<polygon points="774.6,204.6 768.0,198.0 772.3,195.5" fill="#000"/>
<g fill="#000"><text x="702.60" y="233.40" font-size="21.3">τ</text><text x="711.66" y="223.10" font-size="12.9">-1</text><text x="712.26" y="241.00" font-size="12.9">HE</text></g>
<line x1="730.2" y1="228.7" x2="759.8" y2="216.5" stroke="#000" stroke-width="1.0"/>
<polygon points="767.2,213.5 759.8,219.2 757.9,214.6" fill="#000"/>
<line x1="720.4" y1="246.1" x2="733.2" y2="278.3" stroke="#000" stroke-width="1.0"/>
<polygon points="736.1,285.7 730.5,278.3 735.1,276.4" fill="#000"/>
<g fill="#000"><text x="725.20" y="316.00" font-size="21.5">ϕ</text><text x="736.22" y="305.80" font-size="12.9">-1</text></g>
<line x1="735.2" y1="320.4" x2="749.8" y2="330.6" stroke="#000" stroke-width="1.0"/>
<polygon points="756.3,335.2 747.5,332.1 750.4,328.0" fill="#000"/>
<line x1="735.2" y1="320.4" x2="729.5" y2="341.0" stroke="#000" stroke-width="1.0"/>
<polygon points="727.4,348.7 727.4,339.4 732.2,340.7" fill="#000"/>
<g fill="#000"><text x="930.80" y="364.00" font-size="21.3">τ</text><text x="939.86" y="353.70" font-size="12.9">-1</text><text x="940.46" y="371.60" font-size="12.9">ac</text></g>
<line x1="929.1" y1="363.9" x2="917.1" y2="374.3" stroke="#000" stroke-width="1.0"/>
<polygon points="911.1,379.6 916.2,371.8 919.5,375.6" fill="#000"/>
<rect x="330.9" y="491.5" width="444.6" height="360.20000000000005" fill="none" stroke="#000" stroke-width="2.2"/>
<path d="M330.90,851.7v-9M330.90,491.5v9M419.82,851.7v-9M419.82,491.5v9M508.74,851.7v-9M508.74,491.5v9M597.66,851.7v-9M597.66,491.5v9M686.58,851.7v-9M686.58,491.5v9M775.50,851.7v-9M775.50,491.5v9M375.36,851.7v-5M375.36,491.5v5M464.28,851.7v-5M464.28,491.5v5M553.20,851.7v-5M553.20,491.5v5M642.12,851.7v-5M642.12,491.5v5M731.04,851.7v-5M731.04,491.5v5M330.9,848.20h9M775.5,848.20h-9M330.9,768.84h9M775.5,768.84h-9M330.9,689.48h9M775.5,689.48h-9M330.9,610.12h9M775.5,610.12h-9M330.9,530.76h9M775.5,530.76h-9M330.9,808.52h5M775.5,808.52h-5M330.9,729.16h5M775.5,729.16h-5M330.9,649.80h5M775.5,649.80h-5M330.9,570.44h5M775.5,570.44h-5" stroke="#000" stroke-width="1.6" fill="none"/>
<polyline clip-path="url(#clipc)" points="331.0,764.1 331.9,761.0 332.8,759.0 333.7,759.0 334.6,759.2 335.4,759.6 336.3,760.0 337.2,760.5 338.1,760.9 339.0,761.4 339.9,761.8 340.8,762.1 341.7,762.4 342.6,762.8 343.4,763.1 344.3,763.4 345.2,763.8 346.1,764.1 347.0,764.5 347.9,764.8 348.8,765.1 349.7,765.5 350.5,765.8 351.4,766.2 352.3,766.5 353.2,766.8 354.1,767.1 355.0,767.5 355.9,767.8 356.8,768.1 357.7,768.4 358.5,768.7 359.4,769.0 360.3,769.3 361.2,769.6 362.1,769.9 363.0,770.2 363.9,770.4 364.8,770.7 365.7,770.9 366.5,771.2 367.4,771.4 368.3,771.7 369.2,771.9 370.1,772.1 371.0,772.3 371.9,772.5 372.8,772.7 373.7,772.9 374.5,773.1 375.4,773.3 376.3,773.5 377.2,773.7 378.1,773.9 379.0,774.1 379.9,774.3 380.8,774.5 381.7,774.7 382.5,774.9 383.4,775.1 384.3,775.3 385.2,775.4 386.1,775.6 387.0,775.8 387.9,776.0 388.8,776.1 389.6,776.3 390.5,776.5 391.4,776.6 392.3,776.8 393.2,776.9 394.1,777.1 395.0,777.2 395.9,777.4 396.8,777.5 397.6,777.7 398.5,777.8 399.4,777.9 400.3,778.1 401.2,778.2 402.1,778.3 403.0,778.4 403.9,778.5 404.8,778.6 405.6,778.7 406.5,778.8 407.4,778.9 408.3,779.0 409.2,779.1 410.1,779.2 411.0,779.2 415.0,517.4 415.1,517.5 415.3,517.6 415.5,517.7 415.7,517.8 415.9,518.0 416.0,518.1 416.2,518.2 416.4,518.3 416.6,518.4 416.8,518.5 417.0,518.6 417.3,518.8 417.5,518.9 417.7,519.0 417.9,519.1 418.1,519.2 418.4,519.3 418.6,519.4 418.8,519.6 419.1,519.7 419.3,519.8 419.5,519.9 419.8,520.0 420.0,520.2 420.3,520.3 420.6,520.4 420.8,520.5 421.1,520.6 421.4,520.8 421.6,520.9 421.9,521.0 422.2,521.1 422.5,521.3 422.8,521.4 423.1,521.5 423.4,521.6 423.7,521.8 424.0,521.9 424.3,522.0 424.6,522.2 424.9,522.3 425.2,522.4 425.5,522.6 425.8,522.7 426.2,522.8 426.5,523.0 426.8,523.1 427.2,523.3 427.5,523.4 427.9,523.5 428.2,523.7 428.6,523.8 428.9,524.0 429.3,524.1 429.6,524.3 430.0,524.4 430.4,524.6 430.7,524.7 431.1,524.9 431.5,525.0 431.9,525.2 432.3,525.3 432.7,525.5 433.1,525.7 433.5,525.8 433.9,526.0 434.3,526.2 434.7,526.3 435.1,526.5 435.5,526.7 435.9,526.8 436.4,527.0 436.8,527.2 437.2,527.4 437.6,527.5 438.1,527.7 438.5,527.9 439.0,528.1 439.4,528.3 439.9,528.5 440.3,528.7 440.8,528.8 441.2,529.0 441.7,529.2 442.2,529.4 442.7,529.6 443.1,529.8 443.6,530.0 444.1,530.2 444.6,530.4 445.1,530.6 445.6,530.9 446.1,531.1 446.6,531.3 447.1,531.5 447.6,531.7 448.1,531.9 448.6,532.1 449.1,532.3 449.6,532.6 450.2,532.8 450.7,533.0 451.2,533.2 451.8,533.5 452.3,533.7 452.9,533.9 453.4,534.1 454.0,534.4 454.5,534.6 455.1,534.8 455.6,535.1 456.2,535.3 456.8,535.5 457.3,535.8 457.9,536.0 458.5,536.2 459.1,536.5 459.7,536.7 460.3,537.0 460.9,537.2 461.5,537.5 462.1,537.7 462.7,538.0 463.3,538.2 463.9,538.4 464.5,538.7 465.1,538.9 465.7,539.2 466.4,539.5 467.0,539.7 467.6,540.0 468.3,540.2 468.9,540.5 469.5,540.7 470.2,541.0 470.8,541.2 471.5,541.5 472.2,541.8 472.8,542.0 473.5,542.3 474.2,542.5 474.8,542.8 475.5,543.1 476.2,543.3 476.9,543.6 477.6,543.9 478.2,544.1 478.9,544.4 479.6,544.7 480.3,544.9 481.0,545.2 481.7,545.5 482.5,545.7 483.2,546.0 483.9,546.3 484.6,546.6 485.3,546.8 486.1,547.1 486.8,547.4 487.5,547.7 488.3,547.9 489.0,548.2 489.8,548.5 490.5,548.8 491.3,549.0 492.0,549.3 492.8,549.6 493.6,549.9 494.3,550.2 495.1,550.4 495.9,550.7 496.7,551.0 497.4,551.3 498.2,551.6 499.0,551.9 499.8,552.2 500.6,552.4 501.4,552.7 502.2,553.0 503.0,553.3 503.8,553.6 504.6,553.9 505.5,554.2 506.3,554.5 507.1,554.8 507.9,555.1 508.8,555.3 509.6,555.6 510.5,555.9 511.3,556.2 512.1,556.5 513.0,556.8 513.8,557.1 514.7,557.4 515.6,557.7 516.4,558.0 517.3,558.3 518.2,558.6 519.0,558.9 519.9,559.2 520.8,559.5 521.7,559.8 522.6,560.1 523.5,560.4 524.4,560.7 525.3,561.0 526.2,561.3 527.1,561.6 528.0,561.9 528.9,562.2 529.8,562.5 530.8,562.8 531.7,563.1 532.6,563.4 533.5,563.7 534.5,564.0 535.4,564.3 536.4,564.6 537.3,564.9 538.3,565.2 539.2,565.5 540.2,565.8 541.1,566.1 542.1,566.4 543.1,566.7 544.0,567.0 545.0,567.3 546.0,567.6 547.0,567.9 548.0,568.2 548.9,568.5 549.9,568.8 550.9,569.1 551.9,569.3 552.9,569.6 553.9,569.9 555.0,570.2 556.0,570.5 557.0,570.8 558.0,571.1 559.0,571.4 560.1,571.7 561.1,572.0 562.1,572.2 563.2,572.5 564.2,572.8 565.3,573.1 566.3,573.4 567.4,573.7 568.4,574.0 569.5,574.2 570.5,574.5 571.6,574.8 572.7,575.1 573.8,575.4 574.8,575.7 575.9,576.0 577.0,576.2 578.1,576.5 579.2,576.8 580.3,577.1 581.4,577.4 582.5,577.7 583.6,578.0 584.7,578.3 585.8,578.5 586.9,578.8 588.1,579.1 589.2,579.4 590.3,579.7 591.4,580.0 592.6,580.3 593.7,580.6 594.9,580.8 596.0,581.1 597.1,581.4 598.3,581.7 599.5,582.0 600.6,582.3 601.8,582.6 603.0,582.9 604.1,583.2 605.3,583.5 606.5,583.8 607.7,584.1 608.8,584.4 610.0,584.7 611.2,585.0 612.4,585.3 613.6,585.6 614.8,585.9 616.0,586.1 617.2,586.4 618.5,586.7 619.7,587.0 620.9,587.3 622.1,587.6 623.3,587.9 624.6,588.2 625.8,588.5 627.0,588.8 628.3,589.1 629.5,589.4 630.8,589.7 632.0,590.0 633.3,590.3 634.6,590.6 635.8,590.9 637.1,591.2 638.4,591.5 639.6,591.8 640.9,592.0 642.2,592.3 643.5,592.6 644.8,592.9 646.1,593.2 647.3,593.5 648.6,593.8 649.9,594.1 651.3,594.3 652.6,594.6 653.9,594.9 655.2,595.2 656.5,595.5 657.8,595.8 659.2,596.0 660.5,596.3 661.8,596.6 663.2,596.9 664.5,597.1 665.9,597.4 667.2,597.7 668.6,598.0 669.9,598.2 671.3,598.5 672.6,598.8 674.0,599.0 675.4,599.3 676.8,599.6 678.1,599.8 679.5,600.1 680.9,600.4 682.3,600.6 683.7,600.9 685.1,601.1 686.5,601.4 687.9,601.7 689.3,601.9 690.7,602.2 692.1,602.4 693.5,602.7 694.9,603.0 696.4,603.2 697.8,603.5 699.2,603.7 700.7,604.0 702.1,604.2 703.5,604.5 705.0,604.7 706.4,605.0 707.9,605.2 709.3,605.5 710.8,605.7 712.3,606.0 713.7,606.2 715.2,606.5 716.7,606.7 718.1,607.0 719.6,607.2 721.1,607.5 722.6,607.7 724.1,608.0 725.6,608.2 727.1,608.5 728.6,608.7 730.1,609.0 731.6,609.2 733.1,609.5 734.6,609.7 736.1,610.0 737.7,610.2 739.2,610.4 740.7,610.7 742.3,610.9 743.8,611.2 745.3,611.4 746.9,611.7 748.4,611.9 750.0,612.2 751.5,612.4 753.1,612.7 754.7,612.9 756.2,613.1 757.8,613.4 759.4,613.6 760.9,613.9 762.5,614.1 764.1,614.4 765.7,614.6 767.3,614.8 768.9,615.1 770.5,615.3 772.1,615.6 773.7,615.8 775.3,616.1" fill="none" stroke="#ff0000" stroke-width="3.6" stroke-linecap="butt" stroke-linejoin="round"/>
<polyline clip-path="url(#clipc)" points="331.0,778.4 331.9,778.9 332.8,779.5 333.7,780.0 334.6,780.5 335.4,781.0 336.3,781.5 337.2,782.0 338.1,782.4 339.0,782.9 339.9,783.4 340.8,783.9 341.7,784.4 342.6,784.8 343.4,785.3 344.3,785.8 345.2,786.2 346.1,786.7 347.0,787.1 347.9,787.6 348.8,788.0 349.7,788.5 350.5,788.9 351.4,789.3 352.3,789.8 353.2,790.2 354.1,790.6 355.0,791.0 355.9,791.4 356.8,791.8 357.7,792.2 358.5,792.6 359.4,793.0 360.3,793.4 361.2,793.7 362.1,794.1 363.0,794.5 363.9,794.8 364.8,795.2 365.7,795.5 366.5,795.8 367.4,796.2 368.3,796.5 369.2,796.8 370.1,797.1 371.0,797.4 371.9,797.7 372.8,798.0 373.7,798.3 374.5,798.6 375.4,798.9 376.3,799.2 377.2,799.5 378.1,799.8 379.0,800.1 379.9,800.4 380.8,800.7 381.7,800.9 382.5,801.2 383.4,801.5 384.3,801.8 385.2,802.0 386.1,802.3 387.0,802.6 387.9,802.8 388.8,803.1 389.6,803.3 390.5,803.6 391.4,803.8 392.3,804.1 393.2,804.3 394.1,804.5 395.0,804.8 395.9,805.0 396.8,805.2 397.6,805.5 398.5,805.7 399.4,805.9 400.3,806.1 401.2,806.3 402.1,806.5 403.0,806.7 403.9,806.9 404.8,807.1 405.6,807.2 406.5,807.4 407.4,807.6 408.3,807.7 409.2,807.9 410.1,808.1 411.0,808.2 416.0,625.6 416.9,632.0 417.8,638.0 418.7,643.6 419.6,648.7 420.5,653.4 421.4,657.7 422.3,661.8 423.1,665.6 424.0,669.3 424.9,672.8 425.8,676.2 426.7,679.4 427.6,682.5 428.5,685.6 429.4,688.6 430.3,691.6 431.1,694.4 432.0,697.2 432.9,699.9 433.8,702.4 434.7,704.9 435.6,707.2 436.5,709.4 437.4,711.5 438.3,713.5 439.1,715.5 440.0,717.4 440.9,719.3 441.8,721.1 442.7,722.8 443.6,724.5 444.5,726.1 445.4,727.7 446.3,729.2 447.1,730.7 448.0,732.1 448.9,733.5 449.8,734.9 450.7,736.2 451.6,737.5 452.5,738.8 453.4,740.0 454.2,741.2 455.1,742.4 456.0,743.6 456.9,744.7 457.8,745.8 458.7,746.9 459.6,747.9 460.5,749.0 461.4,750.0 462.2,751.1 463.1,752.1 464.0,753.1 464.9,754.0 465.8,755.0 466.7,756.0 467.6,756.9 468.5,757.8 469.4,758.6 470.2,759.5 471.1,760.3 472.0,761.1 472.9,761.9 473.8,762.6 474.7,763.3 475.6,764.0 476.5,764.7 477.4,765.4 478.2,766.0 479.1,766.7 480.0,767.3 480.9,767.9 481.8,768.5 482.7,769.0 483.6,769.6 484.5,770.1 485.3,770.7 486.2,771.2 487.1,771.7 488.0,772.2 488.9,772.7 489.8,773.2 490.7,773.7 495.0,687.9 495.9,689.3 496.8,690.6 497.7,691.9 498.6,693.3 499.5,694.6 500.4,695.9 501.3,697.2 502.2,698.5 503.0,699.8 503.9,701.0 504.8,702.3 505.7,703.5 506.6,704.7 507.5,706.0 508.4,707.2 509.3,708.3 510.2,709.5 511.0,710.6 511.9,711.8 512.8,712.9 513.7,714.0 514.6,715.1 515.5,716.1 516.4,717.1 517.3,718.2 518.2,719.2 519.1,720.2 519.9,721.2 520.8,722.2 521.7,723.2 522.6,724.2 523.5,725.2 524.4,726.2 525.3,727.2 526.2,728.1 527.1,729.1 528.0,730.0 528.8,731.0 529.7,731.9 530.6,732.8 531.5,733.7 532.4,734.6 533.3,735.5 534.2,736.4 535.1,737.3 536.0,738.1 536.8,739.0 537.7,739.8 538.6,740.7 539.5,741.5 540.4,742.3 541.3,743.1 542.2,743.9 543.1,744.6 544.0,745.4 544.9,746.1 545.7,746.9 546.6,747.6 547.5,748.3 548.4,749.0 549.3,749.7 550.2,750.4 551.1,751.0 552.0,751.7 552.9,752.3 553.8,752.9 554.6,753.5 555.5,754.2 556.4,754.8 557.3,755.3 558.2,755.9 559.1,756.5 560.0,757.1 560.9,757.6 561.8,758.1 562.6,758.7 563.5,759.2 564.4,759.7 565.3,760.2 566.2,760.7 567.1,761.2 568.0,761.6 568.9,762.1 569.8,762.5 570.7,762.9 575.4,727.2 576.3,727.8 577.1,728.4 578.0,729.0 578.9,729.6 579.8,730.2 580.7,730.8 581.6,731.3 582.5,731.9 583.4,732.5 584.3,733.1 585.1,733.6 586.0,734.2 586.9,734.8 587.8,735.3 588.7,735.9 589.6,736.5 590.5,737.0 591.4,737.5 592.2,738.1 593.1,738.6 594.0,739.2 594.9,739.7 595.8,740.2 596.7,740.8 597.6,741.3 598.5,741.8 599.4,742.3 600.2,742.8 601.1,743.3 602.0,743.8 602.9,744.3 603.8,744.8 604.7,745.3 605.6,745.8 606.5,746.3 607.4,746.8 608.2,747.3 609.1,747.7 610.0,748.2 610.9,748.7 611.8,749.1 612.7,749.6 613.6,750.0 614.5,750.5 615.4,750.9 616.2,751.4 617.1,751.8 618.0,752.3 618.9,752.7 619.8,753.1 620.7,753.6 621.6,754.0 622.5,754.4 623.3,754.9 624.2,755.3 625.1,755.7 626.0,756.1 626.9,756.6 627.8,757.0 628.7,757.4 629.6,757.8 630.5,758.2 631.3,758.6 632.2,759.0 633.1,759.4 634.0,759.8 634.9,760.2 635.8,760.6 636.7,761.0 637.6,761.3 638.5,761.7 639.3,762.1 640.2,762.5 641.1,762.8 642.0,763.2 642.9,763.6 643.8,763.9 644.7,764.3 645.6,764.6 646.5,765.0 647.3,765.3 648.2,765.6 649.1,766.0 650.0,766.3 655.3,751.8 656.2,752.1 657.1,752.4 658.0,752.7 658.9,753.0 659.8,753.3 660.7,753.6 661.6,753.9 662.4,754.2 663.3,754.5 664.2,754.8 665.1,755.1 666.0,755.4 666.9,755.7 667.8,756.0 668.7,756.3 669.6,756.6 670.4,756.9 671.3,757.2 672.2,757.5 673.1,757.7 674.0,758.0 674.9,758.3 675.8,758.6 676.7,758.9 677.6,759.2 678.4,759.5 679.3,759.7 680.2,760.0 681.1,760.3 682.0,760.6 682.9,760.9 683.8,761.1 684.7,761.4 685.6,761.7 686.4,762.0 687.3,762.2 688.2,762.5 689.1,762.8 690.0,763.1 690.9,763.3 691.8,763.6 692.7,763.9 693.5,764.1 694.4,764.4 695.3,764.7 696.2,764.9 697.1,765.2 698.0,765.5 698.9,765.7 699.8,766.0 700.7,766.3 701.5,766.5 702.4,766.8 703.3,767.0 704.2,767.3 705.1,767.6 706.0,767.8 706.9,768.1 707.8,768.3 708.7,768.6 709.5,768.8 710.4,769.1 711.3,769.3 712.2,769.6 713.1,769.8 714.0,770.1 714.9,770.3 715.8,770.6 716.7,770.8 717.5,771.1 718.4,771.3 719.3,771.6 720.2,771.8 721.1,772.1 722.0,772.3 722.9,772.6 723.8,772.8 724.6,773.0 725.5,773.3 726.4,773.5 727.3,773.7 728.2,774.0 729.1,774.2 730.0,774.5 735.0,768.7 735.9,768.9 736.7,769.0 737.6,769.2 738.5,769.3 739.4,769.5 740.3,769.6 741.2,769.8 742.1,769.9 743.0,770.1 743.9,770.2 744.8,770.4 745.7,770.6 746.6,770.7 747.5,770.9 748.3,771.0 749.2,771.2 750.1,771.3 751.0,771.5 751.9,771.6 752.8,771.8 753.7,771.9 754.6,772.1 755.5,772.3 756.4,772.4 757.3,772.6 758.2,772.7 759.1,772.9 759.9,773.0 760.8,773.2 761.7,773.3 762.6,773.5 763.5,773.6 764.4,773.8 765.3,774.0 766.2,774.1 767.1,774.3 768.0,774.4 768.9,774.6 769.8,774.7 770.7,774.9 771.6,775.0 772.4,775.2 773.3,775.3 774.2,775.5 775.1,775.6" fill="none" stroke="#000000" stroke-width="3.6" stroke-linecap="butt" stroke-linejoin="round"/>
<polyline clip-path="url(#clipc)" points="331.0,830.0 331.9,827.9 332.8,826.3 333.7,826.1 334.6,826.2 335.4,826.4 336.3,826.6 337.2,826.9 338.1,827.2 339.0,827.5 339.9,827.7 340.8,827.8 341.7,828.0 342.6,828.1 343.4,828.3 344.3,828.4 345.2,828.6 346.1,828.7 347.0,828.9 347.9,829.0 348.8,829.1 349.7,829.3 350.5,829.4 351.4,829.5 352.3,829.7 353.2,829.8 354.1,829.9 355.0,830.0 355.9,830.1 356.8,830.2 357.7,830.4 358.5,830.5 359.4,830.6 360.3,830.7 361.2,830.8 362.1,830.9 363.0,831.0 363.9,831.1 364.8,831.1 365.7,831.2 366.5,831.3 367.4,831.4 368.3,831.5 369.2,831.6 370.1,831.6 371.0,831.7 371.9,831.8 372.8,831.9 373.7,831.9 374.5,832.0 375.4,832.1 376.3,832.1 377.2,832.2 378.1,832.3 379.0,832.3 379.9,832.4 380.8,832.5 381.7,832.5 382.5,832.6 383.4,832.7 384.3,832.7 385.2,832.8 386.1,832.9 387.0,832.9 387.9,833.0 388.8,833.0 389.6,833.1 390.5,833.2 391.4,833.2 392.3,833.3 393.2,833.3 394.1,833.4 395.0,833.4 395.9,833.5 396.8,833.5 397.6,833.6 398.5,833.6 399.4,833.6 400.3,833.7 401.2,833.7 402.1,833.8 403.0,833.8 403.9,833.8 404.8,833.9 405.6,833.9 406.5,833.9 407.4,833.9 408.3,834.0 409.2,834.0 410.1,834.0 411.0,834.0 415.0,581.8 415.1,582.3 415.3,582.8 415.5,583.3 415.7,583.8 415.9,584.3 416.0,584.8 416.2,585.3 416.4,585.8 416.6,586.3 416.8,586.8 417.0,587.3 417.3,587.8 417.5,588.4 417.7,588.9 417.9,589.4 418.1,589.9 418.4,590.5 418.6,591.0 418.8,591.6 419.1,592.1 419.3,592.7 419.5,593.2 419.8,593.8 420.0,594.4 420.3,595.0 420.6,595.6 420.8,596.2 421.1,596.8 421.4,597.4 421.6,598.0 421.9,598.7 422.2,599.3 422.5,599.9 422.8,600.6 423.1,601.3 423.4,601.9 423.7,602.6 424.0,603.3 424.3,603.9 424.6,604.6 424.9,605.3 425.2,606.0 425.5,606.7 425.8,607.4 426.2,608.1 426.5,608.8 426.8,609.5 427.2,610.2 427.5,611.0 427.9,611.7 428.2,612.4 428.6,613.1 428.9,613.8 429.3,614.6 429.6,615.3 430.0,616.0 430.4,616.8 430.7,617.5 431.1,618.3 431.5,619.0 431.9,619.7 432.3,620.5 432.7,621.2 433.1,622.0 433.5,622.8 433.9,623.5 434.3,624.3 434.7,625.0 435.1,625.8 435.5,626.6 435.9,627.4 436.3,628.1 436.8,628.9 437.2,629.7 437.6,630.5 438.1,631.3 438.5,632.0 439.0,632.8 439.4,633.6 439.9,634.4 440.3,635.2 440.8,636.0 441.2,636.8 441.7,637.6 442.2,638.4 442.6,639.2 443.1,640.0 443.6,640.8 444.1,641.7 444.6,642.5 445.1,643.3 445.6,644.1 446.0,644.9 446.6,645.7 447.1,646.6 447.6,647.4 448.1,648.2 448.6,649.0 449.1,649.8 449.6,650.7 450.2,651.5 450.7,652.3 451.2,653.1 451.8,653.9 452.3,654.8 452.8,655.6 453.4,656.4 453.9,657.2 454.5,658.0 455.1,658.8 455.6,659.6 456.2,660.4 456.8,661.2 457.3,662.0 457.9,662.8 458.5,663.6 459.1,664.4 459.7,665.2 460.2,666.0 460.8,666.7 461.4,667.5 462.0,668.3 462.6,669.0 463.2,669.8 463.9,670.6 464.5,671.3 465.1,672.0 465.7,672.8 466.3,673.5 467.0,674.3 467.6,675.0 468.2,675.7 468.9,676.4 469.5,677.1 470.2,677.8 470.8,678.5 471.5,679.3 472.1,679.9 472.8,680.6 473.5,681.3 474.1,682.0 474.8,682.7 475.5,683.4 476.2,684.0 476.8,684.7 477.5,685.4 478.2,686.0 478.9,686.7 479.6,687.4 480.3,688.0 481.0,688.7 481.7,689.3 482.4,689.9 483.1,690.6 483.9,691.2 484.6,691.8 485.3,692.5 486.0,693.1 486.8,693.7 487.5,694.3 488.3,694.9 489.0,695.6 489.7,696.2 490.5,696.8 491.2,697.4 492.0,698.0 492.8,698.6 493.5,699.2 494.3,699.8 495.1,700.4 495.8,700.9 496.6,701.5 497.4,702.1 498.2,702.7 499.0,703.3 499.8,703.9 500.6,704.5 501.4,705.0 502.2,705.6 503.0,706.2 503.8,706.8 504.6,707.3 505.4,707.9 506.2,708.5 507.1,709.1 507.9,709.6 508.7,710.2 509.6,710.8 510.4,711.4 511.3,711.9 512.1,712.5 512.9,713.1 513.8,713.7 514.7,714.2 515.5,714.8 516.4,715.4 517.3,716.0 518.1,716.5 519.0,717.1 519.9,717.7 520.8,718.3 521.6,718.8 522.5,719.4 523.4,720.0 524.3,720.6 525.2,721.2 526.1,721.7 527.0,722.3 527.9,722.9 528.9,723.5 529.8,724.0 530.7,724.6 531.6,725.2 532.6,725.7 533.5,726.3 534.4,726.8 535.4,727.4 536.3,728.0 537.2,728.5 538.2,729.1 539.2,729.6 540.1,730.1 541.1,730.7 542.0,731.2 543.0,731.8 544.0,732.3 544.9,732.8 545.9,733.3 546.9,733.8 547.9,734.3 548.9,734.8 549.9,735.3 550.9,735.8 551.9,736.3 552.9,736.8 553.9,737.3 554.9,737.8 555.9,738.2 556.9,738.7 557.9,739.2 559.0,739.6 560.0,740.1 561.0,740.5 562.1,741.0 563.1,741.4 564.1,741.8 565.2,742.3 566.2,742.7 567.3,743.2 568.3,743.6 569.4,744.0 570.5,744.4 571.5,744.9 572.6,745.3 573.7,745.7 574.8,746.1 575.8,746.6 576.9,747.0 578.0,747.4 579.1,747.8 580.2,748.2 581.3,748.6 582.4,749.1 583.5,749.5 584.6,749.9 585.7,750.3 586.8,750.7 588.0,751.1 589.1,751.5 590.2,751.9 591.4,752.3 592.5,752.7 593.6,753.1 594.8,753.5 595.9,753.9 597.1,754.3 598.2,754.7 599.4,755.1 600.5,755.4 601.7,755.8 602.9,756.2 604.0,756.6 605.2,756.9 606.4,757.3 607.6,757.7 608.7,758.0 609.9,758.4 611.1,758.7 612.3,759.1 613.5,759.5 614.7,759.8 615.9,760.1 617.1,760.5 618.4,760.8 619.6,761.2 620.8,761.5 622.0,761.8 623.2,762.2 624.5,762.5 625.7,762.8 626.9,763.1 628.2,763.5 629.4,763.8 630.7,764.1 631.9,764.4 633.2,764.7 634.4,765.0 635.7,765.4 637.0,765.7 638.2,766.0 639.5,766.3 640.8,766.6 642.1,766.9 643.4,767.2 644.6,767.5 645.9,767.8 647.2,768.1 648.5,768.4 649.8,768.7 651.1,769.0 652.5,769.3 653.8,769.6 655.1,769.9 656.4,770.2 657.7,770.5 659.1,770.8 660.4,771.1 661.7,771.3 663.1,771.6 664.4,771.9 665.7,772.2 667.1,772.5 668.4,772.8 669.8,773.1 671.2,773.4 672.5,773.6 673.9,773.9 675.3,774.2 676.6,774.5 678.0,774.8 679.4,775.0 680.8,775.3 682.2,775.6 683.5,775.9 684.9,776.1 686.3,776.4 687.7,776.7 689.1,776.9 690.6,777.2 692.0,777.5 693.4,777.7 694.8,778.0 696.2,778.2 697.6,778.5 699.1,778.8 700.5,779.0 701.9,779.3 703.4,779.5 704.8,779.8 706.3,780.0 707.7,780.3 709.2,780.5 710.6,780.8 712.1,781.0 713.6,781.3 715.0,781.5 716.5,781.8 718.0,782.0 719.5,782.3 721.0,782.5 722.4,782.8 723.9,783.0 725.4,783.3 726.9,783.5 728.4,783.8 729.9,784.0 731.4,784.2 733.0,784.5 734.5,784.7 736.0,785.0 737.5,785.2 739.0,785.5 740.6,785.7 742.1,786.0 743.6,786.2 745.2,786.5 746.7,786.7 748.3,786.9 749.8,787.2 751.4,787.4 752.9,787.7 754.5,787.9 756.1,788.2 757.6,788.4 759.2,788.7 760.8,788.9 762.4,789.2 763.9,789.4 765.5,789.7 767.1,789.9 768.7,790.1 770.3,790.4 771.9,790.6 773.5,790.9 775.1,791.1" fill="none" stroke="#0000ff" stroke-width="3.6" stroke-linecap="butt" stroke-linejoin="round"/>
<line x1="330.09999999999997" x2="775.5" y1="848.4" y2="848.4" stroke="#ff00ff" stroke-width="5.6"/>
<text x="330.90" y="879.1" font-size="23" text-anchor="middle">0</text>
<text x="419.82" y="879.1" font-size="23" text-anchor="middle">10</text>
<text x="508.74" y="879.1" font-size="23" text-anchor="middle">20</text>
<text x="597.66" y="879.1" font-size="23" text-anchor="middle">30</text>
<text x="686.58" y="879.1" font-size="23" text-anchor="middle">40</text>
<text x="775.50" y="879.1" font-size="23" text-anchor="middle">50</text>
<text x="321.2" y="855.50" font-size="23" text-anchor="end">0</text>
<text x="321.2" y="776.14" font-size="23" text-anchor="end">20</text>
<text x="321.2" y="696.78" font-size="23" text-anchor="end">40</text>
<text x="321.2" y="617.42" font-size="23" text-anchor="end">60</text>
<text x="321.2" y="538.06" font-size="23" text-anchor="end">80</text>
<g fill="#000"><text x="532.02" y="918.00" font-size="22.8" font-style="italic">E</text><text x="545.95" y="918.00" font-size="22.8" font-style="italic">/</text><text x="552.28" y="918.00" font-size="22.8" font-style="italic">E</text><text x="566.71" y="925.52" font-size="13.8">F</text></g>
<g fill="#000" transform="rotate(-90 285.0 688.5)"><text x="238.35" y="688.50" font-size="22.0">ϕ</text><text x="249.93" y="678.05" font-size="12.6">−</text><text x="257.04" y="678.05" font-size="12.6">1</text><text x="263.34" y="688.50" font-size="22.0">(10</text><text x="292.66" y="678.05" font-size="12.6">12</text><text x="305.26" y="688.50" font-size="22.0">s</text><text x="313.83" y="678.05" font-size="12.6">-1</text><text x="324.32" y="688.50" font-size="22.0">)</text></g>
<g fill="#000"><text x="347.00" y="532.00" font-size="26.4">(c)</text></g>
<g fill="#000"><text x="349.80" y="570.70" font-size="22.8" font-style="italic">x</text><text x="359.92" y="570.70" font-size="22.8"> = 0.1</text></g>
<g fill="#000"><text x="578.35" y="524.20" font-size="23.0" font-style="italic">T</text><text x="591.15" y="524.20" font-size="23.0"> = 300 K, </text><text x="683.98" y="524.20" font-size="23.0" font-style="italic">L</text><text x="696.77" y="524.20" font-size="23.0"> = 50 Å</text></g>
<g fill="#000"><text x="618.70" y="556.80" font-size="23.0" font-style="italic">N</text><text x="634.54" y="564.39" font-size="13.8">s</text><text x="639.91" y="556.80" font-size="23.0"> = 10</text><text x="687.38" y="547.14" font-size="13.8">11</text><text x="701.18" y="556.80" font-size="23.0"> cm</text><text x="735.03" y="547.14" font-size="13.8">-2</text></g>
<g fill="#000"><text x="455.00" y="525.70" font-size="21.3">τ</text><text x="464.06" y="515.40" font-size="12.9">-1</text><text x="464.66" y="533.30" font-size="12.9">LT</text></g>
<g fill="#000"><text x="448.50" y="643.00" font-size="21.3">τ</text><text x="457.56" y="632.70" font-size="12.9">-1</text><text x="458.16" y="650.60" font-size="12.9">HE</text></g>
<g fill="#000"><text x="473.50" y="797.00" font-size="21.5">ϕ</text><text x="484.52" y="786.80" font-size="12.9">-1</text></g>
<g fill="#000"><text x="663.70" y="824.80" font-size="21.3">τ</text><text x="672.76" y="814.50" font-size="12.9">-1</text><text x="673.36" y="832.40" font-size="12.9">ac</text></g>
<line x1="665.5" y1="828.8" x2="653.4" y2="840.3" stroke="#000" stroke-width="1.0"/>
<polygon points="647.6,845.8 652.4,837.8 655.8,841.4" fill="#000"/>
<rect x="333.7" y="138.0" width="166.7" height="117.80000000000001" fill="#fff" stroke="none"/>
<rect x="333.7" y="138.0" width="166.7" height="117.80000000000001" fill="none" stroke="#3a3a3a" stroke-width="1.2"/>
<path d="M333.70,255.8v-3.3M333.70,138.0v3.3M367.04,255.8v-3.3M367.04,138.0v3.3M400.38,255.8v-3.3M400.38,138.0v3.3M433.72,255.8v-3.3M433.72,138.0v3.3M467.06,255.8v-3.3M467.06,138.0v3.3M500.40,255.8v-3.3M500.40,138.0v3.3M350.37,255.8v-2.0M350.37,138.0v2.0M383.71,255.8v-2.0M383.71,138.0v2.0M417.05,255.8v-2.0M417.05,138.0v2.0M450.39,255.8v-2.0M450.39,138.0v2.0M483.73,255.8v-2.0M483.73,138.0v2.0M333.7,254.60h3.3M500.4,254.60h-3.3M333.7,230.04h3.3M500.4,230.04h-3.3M333.7,205.48h3.3M500.4,205.48h-3.3M333.7,180.92h3.3M500.4,180.92h-3.3M333.7,156.36h3.3M500.4,156.36h-3.3M333.7,242.32h2.0M500.4,242.32h-2.0M333.7,217.76h2.0M500.4,217.76h-2.0M333.7,193.20h2.0M500.4,193.20h-2.0M333.7,168.64h2.0M500.4,168.64h-2.0M333.7,144.08h2.0M500.4,144.08h-2.0" stroke="#2a2a2a" stroke-width="1.0" fill="none"/>
<polyline clip-path="url(#clipia)" points="333.7,253.1 334.0,252.4 334.4,251.8 334.7,251.3 335.0,250.9 335.4,250.7 335.7,250.5 336.0,250.4 336.4,250.2 336.7,250.1 337.0,250.0 337.4,249.9 337.7,249.8 338.0,249.8 338.4,249.7 338.7,249.7 339.0,249.7 339.4,249.6 339.7,249.6 340.0,249.6 340.4,249.6 340.7,249.6 341.0,249.6 341.4,249.5 341.7,249.5 342.0,249.5 342.4,249.5 342.7,249.5 343.0,249.5 343.4,249.5 343.7,249.4 344.0,249.4 344.4,249.4 344.7,249.4 345.0,249.4 345.4,249.4 345.7,249.4 346.0,249.3 346.4,249.3 346.7,249.3 347.0,249.3 347.4,249.3 347.7,249.3 348.0,249.3 348.4,249.3 348.7,249.3 349.0,249.3 349.4,249.2 349.7,249.2 350.0,249.2 350.4,249.2 350.7,249.2 351.0,249.2 351.4,249.2 351.7,249.2 352.0,249.2 352.4,249.2 352.7,249.2 353.0,249.2 353.4,249.2 353.7,249.2 354.0,249.1 354.4,249.1 354.7,249.1 355.1,249.1 355.4,249.1 355.7,249.1 356.1,249.1 356.4,249.1 356.7,249.1 357.1,249.1 357.4,249.1 357.7,249.1 358.1,249.1 358.4,249.1 358.7,249.1 359.1,249.1 359.4,249.1 359.7,249.1 360.1,249.1 360.4,249.1 360.7,249.1 361.1,249.1 361.4,249.1 361.7,249.1 362.1,249.1 362.4,249.1 362.7,249.1 363.1,249.1 363.4,249.1 363.7,249.1 364.7,173.8 364.8,173.5 364.8,173.2 364.9,172.9 364.9,172.5 365.0,172.2 365.1,171.9 365.1,171.6 365.2,171.3 365.3,170.9 365.3,170.6 365.4,170.3 365.5,170.0 365.5,169.7 365.6,169.3 365.7,169.0 365.7,168.7 365.8,168.4 365.9,168.0 366.0,167.7 366.1,167.4 366.1,167.1 366.2,166.7 366.3,166.4 366.4,166.1 366.5,165.7 366.6,165.4 366.6,165.1 366.7,164.7 366.8,164.4 366.9,164.1 367.0,163.7 367.1,163.4 367.2,163.0 367.3,162.7 367.4,162.3 367.5,162.0 367.6,161.7 367.7,161.3 367.8,161.0 367.9,160.6 368.0,160.2 368.2,159.9 368.3,159.5 368.4,159.2 368.5,158.8 368.6,158.5 368.7,158.1 368.8,157.7 369.0,157.4 369.1,157.0 369.2,156.7 369.3,156.3 369.5,155.9 369.6,155.6 369.7,155.2 369.8,154.9 370.0,154.5 370.1,154.2 370.2,153.8 370.4,153.5 370.5,153.2 370.6,152.8 370.8,152.5 370.9,152.2 371.1,151.8 371.2,151.5 371.3,151.2 371.5,150.9 371.6,150.6 371.8,150.3 371.9,150.0 372.1,149.8 372.2,149.5 372.4,149.2 372.6,148.9 372.7,148.7 372.9,148.5 373.0,148.2 373.2,148.0 373.3,147.8 373.5,147.6 373.7,147.4 373.8,147.2 374.0,147.0 374.2,146.8 374.4,146.6 374.5,146.5 374.7,146.3 374.9,146.2 375.0,146.0 375.2,145.9 375.4,145.8 375.6,145.6 375.8,145.5 376.0,145.4 376.1,145.3 376.3,145.2 376.5,145.1 376.7,145.0 376.9,144.9 377.1,144.9 377.3,144.8 377.5,144.7 377.7,144.6 377.9,144.6 378.1,144.5 378.3,144.5 378.5,144.4 378.7,144.4 378.9,144.3 379.1,144.3 379.3,144.2 379.5,144.2 379.7,144.2 379.9,144.2 380.1,144.1 380.3,144.1 380.5,144.1 380.8,144.1 381.0,144.1 381.2,144.1 381.4,144.1 381.6,144.1 381.9,144.2 382.1,144.2 382.3,144.2 382.5,144.2 382.8,144.3 383.0,144.3 383.2,144.3 383.5,144.4 383.7,144.4 383.9,144.5 384.2,144.5 384.4,144.6 384.6,144.7 384.9,144.7 385.1,144.8 385.4,144.9 385.6,144.9 385.9,145.0 386.1,145.1 386.4,145.2 386.6,145.3 386.9,145.3 387.1,145.4 387.4,145.5 387.6,145.6 387.9,145.7 388.1,145.8 388.4,145.9 388.7,146.0 388.9,146.1 389.2,146.2 389.5,146.3 389.7,146.4 390.0,146.5 390.3,146.6 390.5,146.8 390.8,146.9 391.1,147.0 391.4,147.1 391.6,147.2 391.9,147.3 392.2,147.5 392.5,147.6 392.8,147.7 393.0,147.8 393.3,147.9 393.6,148.1 393.9,148.2 394.2,148.3 394.5,148.5 394.8,148.6 395.1,148.7 395.4,148.9 395.7,149.0 396.0,149.1 396.3,149.3 396.6,149.4 396.9,149.5 397.2,149.7 397.5,149.8 397.8,149.9 398.1,150.1 398.4,150.2 398.7,150.3 399.0,150.5 399.3,150.6 399.6,150.8 400.0,150.9 400.3,151.0 400.6,151.2 400.9,151.3 401.2,151.5 401.6,151.6 401.9,151.8 402.2,151.9 402.5,152.0 402.9,152.2 403.2,152.3 403.5,152.5 403.9,152.6 404.2,152.7 404.5,152.9 404.9,153.0 405.2,153.2 405.5,153.3 405.9,153.4 406.2,153.6 406.6,153.7 406.9,153.9 407.2,154.0 407.6,154.1 407.9,154.3 408.3,154.4 408.6,154.5 409.0,154.7 409.4,154.8 409.7,155.0 410.1,155.1 410.4,155.2 410.8,155.4 411.1,155.5 411.5,155.6 411.9,155.8 412.2,155.9 412.6,156.0 413.0,156.2 413.3,156.3 413.7,156.4 414.1,156.6 414.5,156.7 414.8,156.9 415.2,157.0 415.6,157.1 416.0,157.3 416.3,157.4 416.7,157.5 417.1,157.7 417.5,157.8 417.9,157.9 418.3,158.1 418.7,158.2 419.1,158.3 419.4,158.5 419.8,158.6 420.2,158.7 420.6,158.8 421.0,159.0 421.4,159.1 421.8,159.2 422.2,159.4 422.6,159.5 423.0,159.6 423.4,159.8 423.8,159.9 424.3,160.0 424.7,160.1 425.1,160.3 425.5,160.4 425.9,160.5 426.3,160.7 426.7,160.8 427.1,160.9 427.6,161.1 428.0,161.2 428.4,161.3 428.8,161.4 429.3,161.6 429.7,161.7 430.1,161.8 430.5,161.9 431.0,162.1 431.4,162.2 431.8,162.3 432.3,162.4 432.7,162.6 433.1,162.7 433.6,162.8 434.0,163.0 434.5,163.1 434.9,163.2 435.3,163.3 435.8,163.5 436.2,163.6 436.7,163.7 437.1,163.8 437.6,163.9 438.0,164.1 438.5,164.2 438.9,164.3 439.4,164.4 439.9,164.6 440.3,164.7 440.8,164.8 441.2,164.9 441.7,165.0 442.2,165.2 442.6,165.3 443.1,165.4 443.6,165.5 444.0,165.7 444.5,165.8 445.0,165.9 445.5,166.0 445.9,166.1 446.4,166.3 446.9,166.4 447.4,166.5 447.9,166.6 448.3,166.7 448.8,166.8 449.3,167.0 449.8,167.1 450.3,167.2 450.8,167.3 451.3,167.4 451.8,167.5 452.3,167.7 452.7,167.8 453.2,167.9 453.7,168.0 454.2,168.1 454.7,168.2 455.2,168.4 455.7,168.5 456.3,168.6 456.8,168.7 457.3,168.8 457.8,168.9 458.3,169.0 458.8,169.2 459.3,169.3 459.8,169.4 460.3,169.5 460.9,169.6 461.4,169.7 461.9,169.8 462.4,169.9 462.9,170.1 463.5,170.2 464.0,170.3 464.5,170.4 465.0,170.5 465.6,170.6 466.1,170.7 466.6,170.8 467.2,170.9 467.7,171.1 468.2,171.2 468.8,171.3 469.3,171.4 469.9,171.5 470.4,171.6 471.0,171.7 471.5,171.8 472.0,171.9 472.6,172.0 473.1,172.2 473.7,172.3 474.2,172.4 474.8,172.5 475.3,172.6 475.9,172.7 476.5,172.8 477.0,172.9 477.6,173.0 478.1,173.1 478.7,173.2 479.3,173.3 479.8,173.5 480.4,173.6 481.0,173.7 481.5,173.8 482.1,173.9 482.7,174.0 483.3,174.1 483.8,174.2 484.4,174.3 485.0,174.4 485.6,174.5 486.1,174.6 486.7,174.8 487.3,174.9 487.9,175.0 488.5,175.1 489.1,175.2 489.7,175.3 490.3,175.4 490.8,175.5 491.4,175.6 492.0,175.7 492.6,175.8 493.2,175.9 493.8,176.1 494.4,176.2 495.0,176.3 495.6,176.4 496.2,176.5 496.8,176.6 497.4,176.7 498.1,176.8 498.7,176.9 499.3,177.0 499.9,177.1 500.5,177.2" fill="none" stroke="#ff0000" stroke-width="2.4" stroke-linecap="butt" stroke-linejoin="round"/>
<polyline clip-path="url(#clipia)" points="333.7,255.2 334.0,255.2 334.4,255.2 334.7,255.2 335.0,255.2 335.4,255.2 335.7,255.2 336.0,255.2 336.4,255.2 336.7,255.2 337.0,255.2 337.4,255.2 337.7,255.2 338.0,255.2 338.4,255.2 338.7,255.2 339.0,255.2 339.4,255.2 339.7,255.2 340.0,255.2 340.4,255.2 340.7,255.2 341.0,255.2 341.4,255.2 341.7,255.2 342.0,255.2 342.4,255.2 342.7,255.2 343.0,255.2 343.4,255.2 343.7,255.2 344.0,255.2 344.4,255.2 344.7,255.2 345.0,255.2 345.4,255.2 345.7,255.2 346.0,255.2 346.4,255.2 346.7,255.2 347.0,255.2 347.4,255.2 347.7,255.2 348.0,255.2 348.4,255.2 348.7,255.2 349.0,255.2 349.4,255.2 349.7,255.2 350.0,255.2 350.4,255.2 350.7,255.2 351.0,255.2 351.4,255.2 351.7,255.2 352.0,255.2 352.4,255.2 352.7,255.2 353.0,255.2 353.4,255.2 353.7,255.2 354.0,255.2 354.4,255.2 354.7,255.2 355.1,255.2 355.4,255.2 355.7,255.2 356.1,255.2 356.4,255.2 356.7,255.2 357.1,255.2 357.4,255.2 357.7,255.2 358.1,255.2 358.4,255.2 358.7,255.2 359.1,255.2 359.4,255.2 359.7,255.2 360.1,255.2 360.4,255.2 360.7,255.2 361.1,255.2 361.4,255.2 361.7,255.2 362.1,255.2 362.4,255.2 362.7,255.2 363.1,255.2 363.4,255.2 363.7,255.2 365.6,206.3 366.0,209.4 366.3,212.0 366.6,214.1 367.0,215.9 367.3,217.5 367.6,218.9 368.0,220.1 368.3,221.2 368.6,222.2 369.0,223.1 369.3,224.0 369.6,224.7 370.0,225.5 370.3,226.1 370.6,226.7 371.0,227.3 371.3,227.9 371.6,228.4 372.0,228.9 372.3,229.3 372.6,229.8 373.0,230.2 373.3,230.6 373.6,230.9 374.0,231.3 374.3,231.6 374.6,231.9 375.0,232.3 375.3,232.6 375.6,232.8 376.0,233.1 376.3,233.4 376.6,233.6 377.0,233.9 377.3,234.1 377.6,234.3 378.0,234.6 378.3,234.8 378.6,235.0 379.0,235.2 379.3,235.4 379.6,235.5 380.0,235.7 380.3,235.9 380.6,236.1 381.0,236.2 381.3,236.4 381.6,236.6 382.0,236.7 382.3,236.9 382.6,237.0 383.0,237.2 383.3,237.3 383.6,237.4 384.0,237.6 384.3,237.7 384.6,237.8 385.0,237.9 385.3,238.1 385.6,238.2 386.0,238.3 386.3,238.4 386.6,238.5 387.0,238.6 387.3,238.7 387.6,238.8 387.9,239.0 388.3,239.1 388.6,239.1 388.9,239.2 389.3,239.3 389.6,239.4 389.9,239.5 390.3,239.6 390.6,239.7 390.9,239.8 391.3,239.9 391.6,240.0 391.9,240.0 392.3,240.1 392.6,240.2 392.9,240.3 393.3,240.4 395.4,193.0 395.7,194.8 396.1,196.4 396.4,197.9 396.7,199.3 397.1,200.6 397.4,201.8 397.7,202.9 398.1,204.0 398.4,204.9 398.7,205.8 399.1,206.6 399.4,207.4 399.7,208.2 400.1,208.9 400.4,209.6 400.7,210.3 401.1,210.9 401.4,211.5 401.7,212.1 402.1,212.7 402.4,213.3 402.7,213.8 403.1,214.3 403.4,214.8 403.7,215.3 404.1,215.8 404.4,216.2 404.7,216.7 405.1,217.1 405.4,217.5 405.7,217.9 406.1,218.3 406.4,218.7 406.7,219.1 407.1,219.5 407.4,219.9 407.7,220.2 408.0,220.6 408.4,221.0 408.7,221.3 409.0,221.7 409.4,222.0 409.7,222.4 410.0,222.7 410.4,223.0 410.7,223.3 411.0,223.6 411.4,223.9 411.7,224.2 412.0,224.5 412.4,224.7 412.7,225.0 413.0,225.2 413.4,225.5 413.7,225.7 414.0,226.0 414.4,226.2 414.7,226.4 415.0,226.6 415.4,226.8 415.7,227.0 416.0,227.2 416.4,227.4 416.7,227.6 417.0,227.8 417.4,228.0 417.7,228.2 418.0,228.3 418.4,228.5 418.7,228.7 419.0,228.9 419.3,229.0 419.7,229.2 420.0,229.3 420.3,229.5 420.7,229.6 421.0,229.8 421.3,229.9 421.7,230.1 422.0,230.2 422.3,230.4 422.7,230.5 423.0,230.6 423.3,230.8 425.4,199.0 425.8,199.2 426.1,199.6 426.4,200.0 426.8,200.5 427.1,201.0 427.4,201.5 427.8,202.1 428.1,202.6 428.4,203.1 428.8,203.7 429.1,204.2 429.4,204.7 429.8,205.2 430.1,205.6 430.4,206.1 430.8,206.6 431.1,207.0 431.4,207.4 431.8,207.8 432.1,208.2 432.4,208.6 432.8,209.0 433.1,209.3 433.4,209.7 433.8,210.0 434.1,210.3 434.4,210.6 434.8,211.0 435.1,211.3 435.4,211.6 435.8,212.0 436.1,212.3 436.4,212.7 436.8,213.0 437.1,213.4 437.4,213.7 437.8,214.1 438.1,214.4 438.5,214.7 438.8,215.1 439.1,215.4 439.5,215.7 439.8,216.1 440.1,216.4 440.5,216.7 440.8,217.0 441.1,217.3 441.5,217.6 441.8,217.8 442.1,218.1 442.5,218.4 442.8,218.6 443.1,218.9 443.5,219.1 443.8,219.4 444.1,219.6 444.5,219.8 444.8,220.1 445.1,220.3 445.5,220.5 445.8,220.7 446.1,220.9 446.5,221.1 446.8,221.3 447.1,221.5 447.5,221.7 447.8,221.9 448.1,222.1 448.5,222.3 448.8,222.5 449.1,222.7 449.5,222.9 449.8,223.1 450.1,223.3 450.5,223.4 450.8,223.6 451.1,223.8 451.5,223.9 451.8,224.1 452.1,224.3 452.5,224.4 452.8,224.6 453.1,224.8 455.4,207.1 455.7,207.2 456.0,207.3 456.4,207.5 456.7,207.7 457.0,207.9 457.4,208.2 457.7,208.4 458.0,208.7 458.4,209.0 458.7,209.2 459.0,209.5 459.4,209.8 459.7,210.0 460.0,210.3 460.4,210.5 460.7,210.8 461.0,211.0 461.4,211.3 461.7,211.5 462.0,211.8 462.4,212.0 462.7,212.2 463.0,212.5 463.4,212.7 463.7,212.9 464.0,213.1 464.3,213.3 464.7,213.5 465.0,213.7 465.3,213.9 465.7,214.1 466.0,214.3 466.3,214.5 466.7,214.6 467.0,214.8 467.3,215.0 467.7,215.2 468.0,215.3 468.3,215.5 468.7,215.6 469.0,215.8 469.3,216.0 469.7,216.1 470.0,216.3 470.3,216.5 470.7,216.7 471.0,216.8 471.3,217.0 471.7,217.2 472.0,217.4 472.3,217.5 472.7,217.7 473.0,217.9 473.3,218.1 473.7,218.2 474.0,218.4 474.3,218.6 474.7,218.8 475.0,218.9 475.3,219.1 475.7,219.3 476.0,219.4 476.3,219.6 476.7,219.8 477.0,219.9 477.3,220.1 477.7,220.2 478.0,220.4 478.3,220.6 478.7,220.7 479.0,220.9 479.3,221.0 479.7,221.2 480.0,221.3 480.3,221.5 480.7,221.6 481.0,221.7 481.3,221.9 481.7,222.0 482.0,222.1 482.3,222.3 482.7,222.4 483.0,222.5 483.3,222.7 485.5,214.2 485.8,214.3 486.1,214.4 486.5,214.5 486.8,214.6 487.1,214.7 487.5,214.9 487.8,215.0 488.1,215.1 488.5,215.2 488.8,215.3 489.1,215.4 489.4,215.5 489.8,215.6 490.1,215.7 490.4,215.8 490.8,215.9 491.1,216.1 491.4,216.2 491.8,216.3 492.1,216.4 492.4,216.5 492.7,216.6 493.1,216.7 493.4,216.8 493.7,216.9 494.1,217.0 494.4,217.1 494.7,217.3 495.1,217.4 495.4,217.5 495.7,217.6 496.0,217.7 496.4,217.8 496.7,217.9 497.0,218.0 497.4,218.1 497.7,218.2 498.0,218.3 498.4,218.5 498.7,218.6 499.0,218.7 499.3,218.8 499.7,218.9 500.0,219.0 500.3,219.1" fill="none" stroke="#000000" stroke-width="2.4" stroke-linecap="butt" stroke-linejoin="round"/>
<polyline clip-path="url(#clipia)" points="333.7,253.4 334.0,252.7 334.4,252.0 334.7,251.5 335.0,251.2 335.4,251.0 335.7,250.8 336.0,250.6 336.4,250.5 336.7,250.3 337.0,250.2 337.4,250.1 337.7,250.1 338.0,250.0 338.4,250.0 338.7,249.9 339.0,249.9 339.4,249.9 339.7,249.9 340.0,249.9 340.4,249.9 340.7,249.9 341.0,249.9 341.4,249.8 341.7,249.8 342.0,249.8 342.4,249.8 342.7,249.8 343.0,249.8 343.4,249.8 343.7,249.8 344.0,249.8 344.4,249.8 344.7,249.8 345.0,249.7 345.4,249.7 345.7,249.7 346.0,249.7 346.4,249.7 346.7,249.7 347.0,249.7 347.4,249.7 347.7,249.7 348.0,249.7 348.4,249.7 348.7,249.7 349.0,249.7 349.4,249.7 349.7,249.7 350.0,249.7 350.4,249.6 350.7,249.6 351.0,249.6 351.4,249.6 351.7,249.6 352.0,249.6 352.4,249.6 352.7,249.6 353.0,249.6 353.4,249.6 353.7,249.6 354.0,249.6 354.4,249.6 354.7,249.6 355.1,249.6 355.4,249.6 355.7,249.6 356.1,249.6 356.4,249.6 356.7,249.6 357.1,249.6 357.4,249.6 357.7,249.6 358.1,249.6 358.4,249.6 358.7,249.6 359.1,249.6 359.4,249.6 359.7,249.6 360.1,249.6 360.4,249.6 360.7,249.6 361.1,249.6 361.4,249.6 361.7,249.6 362.1,249.6 362.4,249.6 362.7,249.6 363.1,249.6 363.4,249.6 363.7,249.6 364.7,173.8 364.8,173.7 364.8,173.6 364.9,173.4 364.9,173.3 365.0,173.2 365.1,173.1 365.1,172.9 365.2,172.8 365.3,172.7 365.3,172.6 365.4,172.4 365.5,172.3 365.5,172.2 365.6,172.1 365.7,171.9 365.7,171.8 365.8,171.7 365.9,171.6 366.0,171.4 366.1,171.3 366.1,171.2 366.2,171.1 366.3,170.9 366.4,170.8 366.5,170.7 366.6,170.6 366.6,170.4 366.7,170.3 366.8,170.2 366.9,170.0 367.0,169.9 367.1,169.8 367.2,169.6 367.3,169.5 367.4,169.4 367.5,169.3 367.6,169.1 367.7,169.0 367.8,168.9 367.9,168.7 368.0,168.6 368.1,168.5 368.3,168.3 368.4,168.2 368.5,168.0 368.6,167.9 368.7,167.8 368.8,167.6 369.0,167.5 369.1,167.4 369.2,167.2 369.3,167.1 369.4,167.0 369.6,166.9 369.7,166.7 369.8,166.6 370.0,166.5 370.1,166.4 370.2,166.3 370.4,166.2 370.5,166.1 370.6,166.0 370.8,165.9 370.9,165.8 371.1,165.7 371.2,165.6 371.3,165.5 371.5,165.5 371.6,165.4 371.8,165.3 371.9,165.3 372.1,165.2 372.2,165.2 372.4,165.2 372.5,165.1 372.7,165.1 372.9,165.1 373.0,165.1 373.2,165.1 373.3,165.1 373.5,165.1 373.7,165.1 373.8,165.2 374.0,165.2 374.2,165.3 374.3,165.3 374.5,165.4 374.7,165.4 374.9,165.5 375.0,165.6 375.2,165.7 375.4,165.8 375.6,165.9 375.8,166.0 375.9,166.1 376.1,166.2 376.3,166.3 376.5,166.5 376.7,166.6 376.9,166.7 377.1,166.9 377.3,167.0 377.5,167.1 377.6,167.3 377.8,167.4 378.0,167.6 378.2,167.8 378.4,167.9 378.6,168.1 378.8,168.3 379.1,168.4 379.3,168.6 379.5,168.8 379.7,169.0 379.9,169.2 380.1,169.4 380.3,169.6 380.5,169.8 380.7,170.0 381.0,170.2 381.2,170.4 381.4,170.6 381.6,170.8 381.8,171.0 382.1,171.2 382.3,171.5 382.5,171.7 382.7,171.9 383.0,172.1 383.2,172.4 383.4,172.6 383.7,172.8 383.9,173.1 384.1,173.3 384.4,173.6 384.6,173.8 384.9,174.1 385.1,174.3 385.4,174.6 385.6,174.8 385.8,175.1 386.1,175.3 386.3,175.6 386.6,175.8 386.8,176.1 387.1,176.4 387.3,176.6 387.6,176.9 387.9,177.1 388.1,177.4 388.4,177.7 388.6,177.9 388.9,178.2 389.2,178.5 389.4,178.7 389.7,179.0 390.0,179.3 390.2,179.5 390.5,179.8 390.8,180.0 391.1,180.3 391.3,180.6 391.6,180.8 391.9,181.1 392.2,181.4 392.4,181.6 392.7,181.9 393.0,182.1 393.3,182.4 393.6,182.6 393.9,182.9 394.2,183.1 394.5,183.4 394.7,183.6 395.0,183.9 395.3,184.1 395.6,184.4 395.9,184.6 396.2,184.9 396.5,185.1 396.8,185.4 397.1,185.6 397.4,185.9 397.7,186.1 398.0,186.3 398.4,186.6 398.7,186.8 399.0,187.1 399.3,187.3 399.6,187.6 399.9,187.8 400.2,188.0 400.6,188.3 400.9,188.5 401.2,188.8 401.5,189.0 401.8,189.2 402.2,189.5 402.5,189.7 402.8,190.0 403.1,190.2 403.5,190.4 403.8,190.7 404.1,190.9 404.5,191.2 404.8,191.4 405.1,191.7 405.5,191.9 405.8,192.2 406.2,192.4 406.5,192.6 406.9,192.9 407.2,193.1 407.5,193.4 407.9,193.6 408.2,193.9 408.6,194.1 408.9,194.4 409.3,194.6 409.7,194.9 410.0,195.1 410.4,195.3 410.7,195.6 411.1,195.8 411.5,196.1 411.8,196.3 412.2,196.5 412.5,196.8 412.9,197.0 413.3,197.3 413.7,197.5 414.0,197.7 414.4,198.0 414.8,198.2 415.2,198.4 415.5,198.7 415.9,198.9 416.3,199.1 416.7,199.4 417.1,199.6 417.4,199.8 417.8,200.1 418.2,200.3 418.6,200.5 419.0,200.7 419.4,200.9 419.8,201.2 420.2,201.4 420.6,201.6 421.0,201.8 421.4,202.0 421.8,202.2 422.2,202.4 422.6,202.6 423.0,202.9 423.4,203.1 423.8,203.3 424.2,203.5 424.6,203.7 425.0,203.9 425.4,204.0 425.8,204.2 426.2,204.4 426.7,204.6 427.1,204.8 427.5,205.0 427.9,205.2 428.3,205.3 428.8,205.5 429.2,205.7 429.6,205.9 430.0,206.0 430.5,206.2 430.9,206.4 431.3,206.5 431.8,206.7 432.2,206.9 432.6,207.0 433.1,207.2 433.5,207.4 433.9,207.5 434.4,207.7 434.8,207.9 435.3,208.0 435.7,208.2 436.2,208.3 436.6,208.5 437.1,208.6 437.5,208.8 438.0,209.0 438.4,209.1 438.9,209.3 439.3,209.4 439.8,209.6 440.2,209.7 440.7,209.9 441.2,210.1 441.6,210.2 442.1,210.4 442.5,210.5 443.0,210.7 443.5,210.8 444.0,211.0 444.4,211.2 444.9,211.3 445.4,211.5 445.8,211.6 446.3,211.8 446.8,211.9 447.3,212.1 447.8,212.3 448.2,212.4 448.7,212.6 449.2,212.7 449.7,212.9 450.2,213.0 450.7,213.2 451.2,213.3 451.7,213.4 452.1,213.6 452.6,213.7 453.1,213.9 453.6,214.0 454.1,214.2 454.6,214.3 455.1,214.4 455.6,214.6 456.1,214.7 456.6,214.8 457.2,215.0 457.7,215.1 458.2,215.2 458.7,215.4 459.2,215.5 459.7,215.6 460.2,215.7 460.7,215.9 461.3,216.0 461.8,216.1 462.3,216.2 462.8,216.3 463.3,216.5 463.9,216.6 464.4,216.7 464.9,216.8 465.5,217.0 466.0,217.1 466.5,217.2 467.1,217.3 467.6,217.4 468.1,217.5 468.7,217.7 469.2,217.8 469.7,217.9 470.3,218.0 470.8,218.1 471.4,218.3 471.9,218.4 472.5,218.5 473.0,218.6 473.6,218.7 474.1,218.9 474.7,219.0 475.2,219.1 475.8,219.2 476.3,219.3 476.9,219.5 477.4,219.6 478.0,219.7 478.6,219.8 479.1,219.9 479.7,220.0 480.3,220.1 480.8,220.2 481.4,220.3 482.0,220.4 482.5,220.5 483.1,220.6 483.7,220.7 484.3,220.8 484.8,220.9 485.4,221.0 486.0,221.1 486.6,221.1 487.2,221.2 487.7,221.3 488.3,221.4 488.9,221.5 489.5,221.5 490.1,221.6 490.7,221.7 491.3,221.7 491.9,221.8 492.5,221.9 493.1,222.0 493.7,222.0 494.3,222.1 494.9,222.1 495.5,222.2 496.1,222.3 496.7,222.3 497.3,222.4 497.9,222.5 498.5,222.5 499.1,222.6 499.7,222.6 500.3,222.7" fill="none" stroke="#0000ff" stroke-width="2.4" stroke-linecap="butt" stroke-linejoin="round"/>
<line x1="333.09999999999997" x2="501.0" y1="254.9" y2="254.9" stroke="#ff00ff" stroke-width="2.5"/>
<text x="330.4" y="258.20" font-size="10.8" text-anchor="end" fill="#222">0</text>
<text x="330.4" y="233.64" font-size="10.8" text-anchor="end" fill="#222">2</text>
<text x="330.4" y="209.08" font-size="10.8" text-anchor="end" fill="#222">4</text>
<text x="330.4" y="184.52" font-size="10.8" text-anchor="end" fill="#222">6</text>
<text x="330.4" y="159.96" font-size="10.8" text-anchor="end" fill="#222">8</text>
<g fill="#333"><text x="379.30" y="155.00" font-size="8.7">τ</text><text x="383.00" y="150.79" font-size="5.6">-1</text><text x="383.25" y="158.10" font-size="5.6">LT</text></g>
<g fill="#333"><text x="375.10" y="182.00" font-size="8.7">τ</text><text x="378.80" y="177.79" font-size="5.6">-1</text><text x="379.05" y="185.10" font-size="5.6">HE</text></g>
<g fill="#333"><text x="383.70" y="204.40" font-size="10.0">ϕ</text><text x="388.66" y="199.66" font-size="5.8">-1</text></g>
<g fill="#333"><text x="459.70" y="246.60" font-size="8.7">τ</text><text x="463.40" y="242.39" font-size="5.6">-1</text><text x="463.65" y="249.70" font-size="5.6">ac</text></g>
<line x1="457.8" y1="246.7" x2="444.3" y2="254" stroke="#222" stroke-width="0.8"/>
<g fill="#333"><text x="456.90" y="155.00" font-size="11.8" font-style="italic">V</text><text x="462.90" y="157.60" font-size="7.2">o</text><text x="483.50" y="155.00" font-size="11.8">∞</text></g>
<path d="M470.10,150.80H480.10M477.50,148.50L480.70,150.80L477.50,153.10" fill="none" stroke="#333" stroke-width="0.95"/>
<rect x="604.8" y="621.5" width="161.70000000000005" height="115.5" fill="#fff" stroke="none"/>
<rect x="604.8" y="621.5" width="161.70000000000005" height="115.5" fill="none" stroke="#3a3a3a" stroke-width="1.2"/>
<path d="M604.80,737.0v-3.3M604.80,621.5v3.3M637.14,737.0v-3.3M637.14,621.5v3.3M669.48,737.0v-3.3M669.48,621.5v3.3M701.82,737.0v-3.3M701.82,621.5v3.3M734.16,737.0v-3.3M734.16,621.5v3.3M766.50,737.0v-3.3M766.50,621.5v3.3M620.97,737.0v-2.0M620.97,621.5v2.0M653.31,737.0v-2.0M653.31,621.5v2.0M685.65,737.0v-2.0M685.65,621.5v2.0M717.99,737.0v-2.0M717.99,621.5v2.0M750.33,737.0v-2.0M750.33,621.5v2.0M604.8,734.00h3.3M766.5,734.00h-3.3M604.8,702.75h3.3M766.5,702.75h-3.3M604.8,671.50h3.3M766.5,671.50h-3.3M604.8,640.25h3.3M766.5,640.25h-3.3M604.8,718.38h2.0M766.5,718.38h-2.0M604.8,687.12h2.0M766.5,687.12h-2.0M604.8,655.88h2.0M766.5,655.88h-2.0M604.8,624.62h2.0M766.5,624.62h-2.0" stroke="#2a2a2a" stroke-width="1.0" fill="none"/>
<polyline clip-path="url(#clipic)" points="604.8,701.7 605.1,701.7 605.4,701.8 605.8,701.9 606.1,701.9 606.4,702.0 606.7,702.0 607.1,702.1 607.4,702.1 607.7,702.2 608.0,702.3 608.4,702.3 608.7,702.4 609.0,702.4 609.3,702.5 609.7,702.5 610.0,702.6 610.3,702.6 610.6,702.7 610.9,702.7 611.3,702.8 611.6,702.9 611.9,702.9 612.2,703.0 612.6,703.0 612.9,703.1 613.2,703.1 613.5,703.2 613.9,703.2 614.2,703.3 614.5,703.3 614.8,703.4 615.1,703.4 615.5,703.5 615.8,703.5 616.1,703.5 616.4,703.6 616.8,703.6 617.1,703.7 617.4,703.7 617.7,703.8 618.1,703.8 618.4,703.9 618.7,703.9 619.0,704.0 619.4,704.0 619.7,704.0 620.0,704.1 620.3,704.1 620.6,704.2 621.0,704.2 621.3,704.3 621.6,704.3 621.9,704.3 622.3,704.4 622.6,704.4 622.9,704.5 623.2,704.5 623.6,704.5 623.9,704.6 624.2,704.6 624.5,704.7 624.9,704.7 625.2,704.7 625.5,704.8 625.8,704.8 626.1,704.8 626.5,704.9 626.8,704.9 627.1,705.0 627.4,705.0 627.8,705.0 628.1,705.1 628.4,705.1 628.7,705.1 629.1,705.2 629.4,705.2 629.7,705.2 630.0,705.3 630.3,705.3 630.7,705.3 631.0,705.4 631.3,705.4 631.6,705.4 632.0,705.5 632.3,705.5 633.9,629.2 633.9,629.2 633.9,629.3 633.9,629.3 633.9,629.3 633.9,629.4 633.9,629.4 633.9,629.4 634.0,629.5 634.0,629.5 634.0,629.5 634.0,629.6 634.0,629.6 634.0,629.6 634.1,629.7 634.1,629.7 634.1,629.7 634.1,629.8 634.2,629.8 634.2,629.8 634.2,629.9 634.3,629.9 634.3,630.0 634.3,630.0 634.4,630.0 634.4,630.1 634.4,630.1 634.5,630.1 634.5,630.2 634.6,630.2 634.6,630.2 634.7,630.3 634.7,630.3 634.8,630.4 634.8,630.4 634.9,630.4 634.9,630.5 635.0,630.5 635.0,630.5 635.1,630.6 635.2,630.6 635.2,630.7 635.3,630.7 635.4,630.7 635.4,630.8 635.5,630.8 635.6,630.8 635.6,630.9 635.7,630.9 635.8,631.0 635.9,631.0 636.0,631.0 636.0,631.1 636.1,631.1 636.2,631.2 636.3,631.2 636.4,631.2 636.5,631.3 636.6,631.3 636.7,631.4 636.7,631.4 636.8,631.5 636.9,631.5 637.0,631.5 637.1,631.6 637.2,631.6 637.3,631.7 637.4,631.7 637.6,631.8 637.7,631.8 637.8,631.9 637.9,631.9 638.0,631.9 638.1,632.0 638.2,632.0 638.3,632.1 638.5,632.1 638.6,632.2 638.7,632.2 638.8,632.3 639.0,632.3 639.1,632.4 639.2,632.4 639.3,632.5 639.5,632.5 639.6,632.6 639.7,632.6 639.9,632.7 640.0,632.7 640.2,632.8 640.3,632.8 640.4,632.9 640.6,632.9 640.7,633.0 640.9,633.0 641.0,633.1 641.2,633.1 641.3,633.2 641.5,633.3 641.6,633.3 641.8,633.4 642.0,633.4 642.1,633.5 642.3,633.5 642.4,633.6 642.6,633.6 642.8,633.7 642.9,633.8 643.1,633.8 643.3,633.9 643.5,633.9 643.6,634.0 643.8,634.1 644.0,634.1 644.2,634.2 644.3,634.3 644.5,634.3 644.7,634.4 644.9,634.4 645.1,634.5 645.3,634.6 645.5,634.6 645.6,634.7 645.8,634.8 646.0,634.8 646.2,634.9 646.4,635.0 646.6,635.0 646.8,635.1 647.0,635.2 647.2,635.3 647.4,635.3 647.6,635.4 647.9,635.5 648.1,635.5 648.3,635.6 648.5,635.7 648.7,635.8 648.9,635.8 649.1,635.9 649.4,636.0 649.6,636.1 649.8,636.1 650.0,636.2 650.3,636.3 650.5,636.4 650.7,636.4 651.0,636.5 651.2,636.6 651.4,636.7 651.7,636.7 651.9,636.8 652.1,636.9 652.4,637.0 652.6,637.1 652.9,637.2 653.1,637.2 653.3,637.3 653.6,637.4 653.8,637.5 654.1,637.6 654.4,637.7 654.6,637.7 654.9,637.8 655.1,637.9 655.4,638.0 655.6,638.1 655.9,638.2 656.2,638.3 656.4,638.3 656.7,638.4 657.0,638.5 657.2,638.6 657.5,638.7 657.8,638.8 658.1,638.9 658.3,639.0 658.6,639.1 658.9,639.2 659.2,639.2 659.5,639.3 659.7,639.4 660.0,639.5 660.3,639.6 660.6,639.7 660.9,639.8 661.2,639.9 661.5,640.0 661.8,640.1 662.1,640.2 662.4,640.3 662.7,640.4 663.0,640.5 663.3,640.6 663.6,640.7 663.9,640.8 664.2,640.8 664.5,640.9 664.8,641.0 665.1,641.1 665.5,641.2 665.8,641.3 666.1,641.4 666.4,641.5 666.7,641.6 667.1,641.7 667.4,641.8 667.7,641.9 668.0,642.0 668.4,642.1 668.7,642.2 669.0,642.3 669.4,642.4 669.7,642.5 670.0,642.6 670.4,642.7 670.7,642.8 671.0,642.9 671.4,643.0 671.7,643.1 672.1,643.2 672.4,643.3 672.8,643.4 673.1,643.5 673.5,643.6 673.8,643.7 674.2,643.8 674.6,643.8 674.9,643.9 675.3,644.0 675.6,644.1 676.0,644.2 676.4,644.3 676.7,644.4 677.1,644.5 677.5,644.6 677.8,644.7 678.2,644.8 678.6,644.9 679.0,645.0 679.3,645.1 679.7,645.2 680.1,645.3 680.5,645.4 680.9,645.5 681.3,645.6 681.6,645.7 682.0,645.8 682.4,645.9 682.8,646.0 683.2,646.1 683.6,646.2 684.0,646.3 684.4,646.4 684.8,646.5 685.2,646.6 685.6,646.7 686.0,646.8 686.4,646.9 686.8,647.0 687.2,647.1 687.6,647.2 688.1,647.3 688.5,647.4 688.9,647.5 689.3,647.6 689.7,647.7 690.1,647.8 690.6,647.9 691.0,648.0 691.4,648.1 691.8,648.2 692.3,648.3 692.7,648.4 693.1,648.5 693.6,648.6 694.0,648.7 694.4,648.8 694.9,648.9 695.3,649.0 695.7,649.1 696.2,649.2 696.6,649.3 697.1,649.4 697.5,649.5 698.0,649.6 698.4,649.7 698.9,649.8 699.3,649.9 699.8,650.0 700.2,650.1 700.7,650.2 701.2,650.3 701.6,650.4 702.1,650.5 702.5,650.6 703.0,650.7 703.5,650.9 704.0,651.0 704.4,651.1 704.9,651.2 705.4,651.3 705.8,651.4 706.3,651.5 706.8,651.6 707.3,651.7 707.8,651.8 708.2,651.9 708.7,652.0 709.2,652.1 709.7,652.2 710.2,652.3 710.7,652.4 711.2,652.6 711.7,652.7 712.2,652.8 712.7,652.9 713.2,653.0 713.7,653.1 714.2,653.2 714.7,653.3 715.2,653.4 715.7,653.5 716.2,653.6 716.7,653.7 717.2,653.8 717.7,653.9 718.2,654.1 718.8,654.2 719.3,654.3 719.8,654.4 720.3,654.5 720.8,654.6 721.4,654.7 721.9,654.8 722.4,654.9 723.0,655.0 723.5,655.1 724.0,655.2 724.6,655.3 725.1,655.5 725.6,655.6 726.2,655.7 726.7,655.8 727.2,655.9 727.8,656.0 728.3,656.1 728.9,656.2 729.4,656.3 730.0,656.4 730.5,656.5 731.1,656.6 731.6,656.7 732.2,656.8 732.8,657.0 733.3,657.1 733.9,657.2 734.4,657.3 735.0,657.4 735.6,657.5 736.1,657.6 736.7,657.7 737.3,657.8 737.8,657.9 738.4,658.0 739.0,658.1 739.6,658.2 740.1,658.3 740.7,658.4 741.3,658.5 741.9,658.6 742.5,658.8 743.1,658.9 743.6,659.0 744.2,659.1 744.8,659.2 745.4,659.3 746.0,659.4 746.6,659.5 747.2,659.6 747.8,659.7 748.4,659.8 749.0,659.9 749.6,660.0 750.2,660.1 750.8,660.2 751.4,660.3 752.0,660.4 752.7,660.5 753.3,660.6 753.9,660.7 754.5,660.8 755.1,660.9 755.7,661.0 756.4,661.1 757.0,661.2 757.6,661.3 758.2,661.4 758.9,661.5 759.5,661.6 760.1,661.7 760.7,661.8 761.4,661.9 762.0,662.0 762.6,662.1 763.3,662.2 763.9,662.3 764.6,662.4 765.2,662.5 765.9,662.6 766.5,662.8" fill="none" stroke="#ff0000" stroke-width="2.9" stroke-linecap="butt" stroke-linejoin="round"/>
<polyline clip-path="url(#clipic)" points="604.8,706.6 605.1,706.7 605.4,706.8 605.8,706.9 606.1,707.0 606.4,707.0 606.7,707.1 607.1,707.2 607.4,707.3 607.7,707.4 608.0,707.4 608.4,707.5 608.7,707.6 609.0,707.7 609.3,707.8 609.7,707.8 610.0,707.9 610.3,708.0 610.6,708.1 610.9,708.1 611.3,708.2 611.6,708.3 611.9,708.4 612.2,708.4 612.6,708.5 612.9,708.6 613.2,708.7 613.5,708.7 613.9,708.8 614.2,708.9 614.5,709.0 614.8,709.0 615.1,709.1 615.5,709.2 615.8,709.2 616.1,709.3 616.4,709.4 616.8,709.4 617.1,709.5 617.4,709.6 617.7,709.6 618.1,709.7 618.4,709.8 618.7,709.8 619.0,709.9 619.4,709.9 619.7,710.0 620.0,710.1 620.3,710.1 620.6,710.2 621.0,710.2 621.3,710.3 621.6,710.4 621.9,710.4 622.3,710.5 622.6,710.5 622.9,710.6 623.2,710.6 623.6,710.7 623.9,710.8 624.2,710.8 624.5,710.9 624.9,710.9 625.2,711.0 625.5,711.0 625.8,711.1 626.1,711.1 626.5,711.2 626.8,711.2 627.1,711.3 627.4,711.4 627.8,711.4 628.1,711.5 628.4,711.5 628.7,711.6 629.1,711.6 629.4,711.6 629.7,711.7 630.0,711.7 630.3,711.8 630.7,711.8 631.0,711.9 631.3,711.9 631.6,712.0 632.0,712.0 632.3,712.1 634.1,652.8 634.4,653.6 634.7,654.5 635.0,655.3 635.4,656.1 635.7,656.9 636.0,657.8 636.3,658.5 636.7,659.3 637.0,660.1 637.3,660.9 637.6,661.6 638.0,662.3 638.3,663.0 638.6,663.7 638.9,664.4 639.3,665.1 639.6,665.7 639.9,666.4 640.2,667.0 640.6,667.6 640.9,668.2 641.2,668.9 641.6,669.5 641.9,670.0 642.2,670.6 642.5,671.2 642.9,671.8 643.2,672.3 643.5,672.9 643.8,673.4 644.2,673.9 644.5,674.5 644.8,675.0 645.1,675.5 645.5,676.0 645.8,676.5 646.1,677.0 646.4,677.5 646.8,678.0 647.1,678.5 647.4,679.0 647.7,679.5 648.1,679.9 648.4,680.4 648.7,680.8 649.0,681.3 649.4,681.7 649.7,682.2 650.0,682.6 650.3,683.0 650.7,683.4 651.0,683.8 651.3,684.2 651.6,684.6 652.0,684.9 652.3,685.3 652.6,685.7 652.9,686.0 653.3,686.4 653.6,686.7 653.9,687.1 654.2,687.4 654.6,687.7 654.9,688.1 655.2,688.4 655.5,688.7 655.9,689.1 656.2,689.4 656.5,689.7 656.8,690.0 657.2,690.3 657.5,690.6 657.8,690.9 658.1,691.1 658.5,691.4 658.8,691.7 659.1,691.9 659.4,692.2 659.8,692.5 660.1,692.7 660.4,692.9 660.7,693.2 661.1,693.4 663.0,673.4 663.3,673.6 663.7,673.9 664.0,674.1 664.3,674.4 664.6,674.6 665.0,674.9 665.3,675.1 665.6,675.3 665.9,675.6 666.2,675.8 666.6,676.1 666.9,676.3 667.2,676.5 667.5,676.8 667.9,677.0 668.2,677.2 668.5,677.5 668.8,677.7 669.2,677.9 669.5,678.2 669.8,678.4 670.1,678.6 670.5,678.8 670.8,679.1 671.1,679.3 671.4,679.5 671.7,679.7 672.1,679.9 672.4,680.2 672.7,680.4 673.0,680.6 673.4,680.8 673.7,681.0 674.0,681.2 674.3,681.4 674.7,681.6 675.0,681.8 675.3,682.0 675.6,682.2 675.9,682.4 676.3,682.6 676.6,682.8 676.9,683.0 677.2,683.2 677.6,683.4 677.9,683.6 678.2,683.8 678.5,684.0 678.9,684.2 679.2,684.4 679.5,684.6 679.8,684.8 680.2,685.0 680.5,685.1 680.8,685.3 681.1,685.5 681.4,685.7 681.8,685.9 682.1,686.1 682.4,686.2 682.7,686.4 683.1,686.6 683.4,686.8 683.7,687.0 684.0,687.1 684.4,687.3 684.7,687.5 685.0,687.7 685.3,687.8 685.6,688.0 686.0,688.2 686.3,688.3 686.6,688.5 686.9,688.7 687.3,688.8 687.6,689.0 687.9,689.2 688.2,689.3 688.6,689.5 688.9,689.6 689.2,689.8 689.5,690.0 689.9,690.1 690.2,690.3 690.5,690.4 690.8,690.6 691.1,690.7 691.5,690.9 693.4,685.4 693.7,685.5 694.1,685.6 694.4,685.8 694.7,685.9 695.0,686.0 695.4,686.1 695.7,686.3 696.0,686.4 696.3,686.5 696.6,686.6 697.0,686.8 697.3,686.9 697.6,687.0 697.9,687.1 698.3,687.3 698.6,687.4 698.9,687.5 699.2,687.6 699.6,687.7 699.9,687.9 700.2,688.0 700.5,688.1 700.8,688.2 701.2,688.3 701.5,688.4 701.8,688.6 702.1,688.7 702.5,688.8 702.8,688.9 703.1,689.0 703.4,689.1 703.8,689.3 704.1,689.4 704.4,689.5 704.7,689.6 705.1,689.7 705.4,689.8 705.7,689.9 706.0,690.0 706.3,690.1 706.7,690.2 707.0,690.4 707.3,690.5 707.6,690.6 708.0,690.7 708.3,690.8 708.6,690.9 708.9,691.0 709.3,691.1 709.6,691.2 709.9,691.3 710.2,691.4 710.6,691.5 710.9,691.6 711.2,691.7 711.5,691.8 711.8,691.9 712.2,692.0 712.5,692.1 712.8,692.2 713.1,692.3 713.5,692.4 713.8,692.5 714.1,692.6 714.4,692.7 714.8,692.8 715.1,692.9 715.4,693.0 715.7,693.1 716.0,693.2 716.4,693.3 716.7,693.4 717.0,693.5 717.3,693.6 717.7,693.7 718.0,693.8 718.3,693.9 718.6,694.0 719.0,694.1 719.3,694.2 719.6,694.3 719.9,694.4 720.3,694.4 720.6,694.5 720.9,694.6 722.8,692.9 723.2,693.0 723.5,693.1 723.8,693.1 724.1,693.2 724.5,693.3 724.8,693.3 725.1,693.4 725.4,693.5 725.8,693.5 726.1,693.6 726.4,693.7 726.7,693.7 727.0,693.8 727.4,693.9 727.7,694.0 728.0,694.0 728.3,694.1 728.7,694.2 729.0,694.2 729.3,694.3 729.6,694.4 730.0,694.4 730.3,694.5 730.6,694.6 730.9,694.6 731.2,694.7 731.6,694.8 731.9,694.8 732.2,694.9 732.5,695.0 732.9,695.0 733.2,695.1 733.5,695.2 733.8,695.2 734.2,695.3 734.5,695.4 734.8,695.4 735.1,695.5 735.5,695.6 735.8,695.6 736.1,695.7 736.4,695.8 736.7,695.8 737.1,695.9 737.4,696.0 737.7,696.0 738.0,696.1 738.4,696.2 738.7,696.3 739.0,696.3 739.3,696.4 739.7,696.5 740.0,696.5 740.3,696.6 740.6,696.7 741.0,696.7 741.3,696.8 741.6,696.9 741.9,696.9 742.2,697.0 742.6,697.1 742.9,697.1 743.2,697.2 743.5,697.3 743.9,697.3 744.2,697.4 744.5,697.5 744.8,697.5 745.2,697.6 745.5,697.7 745.8,697.7 746.1,697.8 746.4,697.9 746.8,697.9 747.1,698.0 747.4,698.1 747.7,698.1 748.1,698.2 748.4,698.3 748.7,698.3 749.0,698.4 749.4,698.5 749.7,698.6 750.0,698.6 750.3,698.7 751.9,697.9 752.3,697.9 752.6,698.0 752.9,698.1 753.2,698.1 753.6,698.2 753.9,698.3 754.2,698.3 754.5,698.4 754.9,698.5 755.2,698.5 755.5,698.6 755.8,698.7 756.2,698.7 756.5,698.8 756.8,698.9 757.1,698.9 757.4,699.0 757.8,699.1 758.1,699.1 758.4,699.2 758.7,699.3 759.1,699.3 759.4,699.4 759.7,699.5 760.0,699.5 760.4,699.6 760.7,699.7 761.0,699.7 761.3,699.8 761.6,699.9 762.0,699.9 762.3,700.0 762.6,700.1 762.9,700.1 763.3,700.2 763.6,700.3 763.9,700.3 764.2,700.4 764.6,700.5 764.9,700.5 765.2,700.6 765.5,700.7 765.9,700.7 766.2,700.8 766.5,700.9" fill="none" stroke="#000000" stroke-width="2.9" stroke-linecap="butt" stroke-linejoin="round"/>
<polyline clip-path="url(#clipic)" points="604.8,719.6 605.1,718.7 605.4,717.8 605.8,717.1 606.1,716.8 606.4,716.8 606.7,716.8 607.1,716.9 607.4,716.9 607.7,716.9 608.0,717.0 608.4,717.0 608.7,717.0 609.0,717.1 609.3,717.1 609.7,717.1 610.0,717.1 610.3,717.2 610.6,717.2 610.9,717.2 611.3,717.2 611.6,717.3 611.9,717.3 612.2,717.3 612.6,717.3 612.9,717.4 613.2,717.4 613.5,717.4 613.9,717.4 614.2,717.5 614.5,717.5 614.8,717.5 615.1,717.5 615.5,717.6 615.8,717.6 616.1,717.6 616.4,717.6 616.8,717.7 617.1,717.7 617.4,717.7 617.7,717.7 618.1,717.7 618.4,717.8 618.7,717.8 619.0,717.8 619.4,717.8 619.7,717.9 620.0,717.9 620.3,717.9 620.6,717.9 621.0,717.9 621.3,718.0 621.6,718.0 621.9,718.0 622.3,718.0 622.6,718.0 622.9,718.1 623.2,718.1 623.6,718.1 623.9,718.1 624.2,718.1 624.5,718.2 624.9,718.2 625.2,718.2 625.5,718.2 625.8,718.2 626.1,718.3 626.5,718.3 626.8,718.3 627.1,718.3 627.4,718.3 627.8,718.3 628.1,718.4 628.4,718.4 628.7,718.4 629.1,718.4 629.4,718.4 629.7,718.4 630.0,718.5 630.3,718.5 630.7,718.5 631.0,718.5 631.3,718.5 631.6,718.5 632.0,718.5 632.3,718.6 633.9,643.7 633.9,643.8 633.9,643.8 633.9,643.9 633.9,644.0 633.9,644.1 633.9,644.1 633.9,644.2 634.0,644.3 634.0,644.4 634.0,644.4 634.0,644.5 634.0,644.6 634.0,644.7 634.1,644.8 634.1,644.8 634.1,644.9 634.1,645.0 634.2,645.1 634.2,645.2 634.2,645.2 634.3,645.3 634.3,645.4 634.3,645.5 634.4,645.6 634.4,645.7 634.4,645.8 634.5,645.8 634.5,645.9 634.6,646.0 634.6,646.1 634.7,646.2 634.7,646.3 634.8,646.4 634.8,646.5 634.9,646.6 634.9,646.7 635.0,646.8 635.0,646.9 635.1,647.0 635.2,647.1 635.2,647.2 635.3,647.3 635.4,647.4 635.4,647.5 635.5,647.6 635.6,647.7 635.6,647.9 635.7,648.0 635.8,648.1 635.9,648.2 636.0,648.3 636.0,648.5 636.1,648.6 636.2,648.7 636.3,648.8 636.4,649.0 636.5,649.1 636.6,649.2 636.7,649.4 636.7,649.5 636.8,649.7 636.9,649.8 637.0,649.9 637.1,650.1 637.2,650.2 637.3,650.4 637.4,650.5 637.6,650.7 637.7,650.9 637.8,651.0 637.9,651.2 638.0,651.4 638.1,651.5 638.2,651.7 638.3,651.9 638.5,652.0 638.6,652.2 638.7,652.4 638.8,652.6 639.0,652.8 639.1,653.0 639.2,653.2 639.3,653.3 639.5,653.5 639.6,653.7 639.7,653.9 639.9,654.1 640.0,654.3 640.2,654.5 640.3,654.7 640.4,655.0 640.6,655.2 640.7,655.4 640.9,655.6 641.0,655.8 641.2,656.0 641.3,656.2 641.5,656.4 641.6,656.7 641.8,656.9 642.0,657.1 642.1,657.3 642.3,657.5 642.4,657.8 642.6,658.0 642.8,658.2 642.9,658.4 643.1,658.7 643.3,658.9 643.5,659.1 643.6,659.3 643.8,659.6 644.0,659.8 644.2,660.0 644.3,660.3 644.5,660.5 644.7,660.7 644.9,660.9 645.1,661.2 645.3,661.4 645.5,661.6 645.6,661.9 645.8,662.1 646.0,662.3 646.2,662.5 646.4,662.8 646.6,663.0 646.8,663.2 647.0,663.5 647.2,663.7 647.4,663.9 647.6,664.1 647.9,664.4 648.1,664.6 648.3,664.8 648.5,665.0 648.7,665.3 648.9,665.5 649.1,665.7 649.4,665.9 649.6,666.2 649.8,666.4 650.0,666.6 650.3,666.8 650.5,667.1 650.7,667.3 651.0,667.5 651.2,667.7 651.4,667.9 651.7,668.2 651.9,668.4 652.1,668.6 652.4,668.8 652.6,669.0 652.9,669.2 653.1,669.4 653.3,669.6 653.6,669.9 653.8,670.1 654.1,670.3 654.4,670.5 654.6,670.7 654.9,670.9 655.1,671.1 655.4,671.3 655.6,671.5 655.9,671.7 656.2,671.9 656.4,672.1 656.7,672.3 657.0,672.5 657.2,672.7 657.5,672.9 657.8,673.1 658.1,673.3 658.3,673.5 658.6,673.7 658.9,673.9 659.2,674.1 659.5,674.3 659.7,674.4 660.0,674.6 660.3,674.8 660.6,675.0 660.9,675.2 661.2,675.4 661.5,675.6 661.8,675.8 662.1,675.9 662.4,676.1 662.7,676.3 663.0,676.5 663.3,676.7 663.6,676.8 663.9,677.0 664.2,677.2 664.5,677.4 664.8,677.6 665.1,677.7 665.5,677.9 665.8,678.1 666.1,678.3 666.4,678.4 666.7,678.6 667.1,678.8 667.4,679.0 667.7,679.1 668.0,679.3 668.4,679.5 668.7,679.6 669.0,679.8 669.4,680.0 669.7,680.2 670.0,680.3 670.4,680.5 670.7,680.7 671.0,680.8 671.4,681.0 671.7,681.2 672.1,681.3 672.4,681.5 672.8,681.6 673.1,681.8 673.5,682.0 673.8,682.1 674.2,682.3 674.6,682.4 674.9,682.6 675.3,682.8 675.6,682.9 676.0,683.1 676.4,683.2 676.7,683.4 677.1,683.6 677.5,683.7 677.8,683.9 678.2,684.0 678.6,684.2 679.0,684.3 679.3,684.5 679.7,684.6 680.1,684.8 680.5,684.9 680.9,685.1 681.3,685.2 681.6,685.4 682.0,685.5 682.4,685.7 682.8,685.8 683.2,686.0 683.6,686.1 684.0,686.3 684.4,686.4 684.8,686.6 685.2,686.7 685.6,686.8 686.0,687.0 686.4,687.1 686.8,687.3 687.2,687.4 687.6,687.6 688.1,687.7 688.5,687.9 688.9,688.0 689.3,688.1 689.7,688.3 690.1,688.4 690.6,688.6 691.0,688.7 691.4,688.8 691.8,689.0 692.3,689.1 692.7,689.3 693.1,689.4 693.6,689.5 694.0,689.7 694.4,689.8 694.9,689.9 695.3,690.1 695.7,690.2 696.2,690.4 696.6,690.5 697.1,690.6 697.5,690.8 698.0,690.9 698.4,691.0 698.9,691.2 699.3,691.3 699.8,691.4 700.2,691.6 700.7,691.7 701.2,691.8 701.6,691.9 702.1,692.1 702.5,692.2 703.0,692.3 703.5,692.5 704.0,692.6 704.4,692.7 704.9,692.8 705.4,692.9 705.8,693.1 706.3,693.2 706.8,693.3 707.3,693.4 707.8,693.5 708.2,693.7 708.7,693.8 709.2,693.9 709.7,694.0 710.2,694.1 710.7,694.2 711.2,694.3 711.7,694.5 712.2,694.6 712.7,694.7 713.2,694.8 713.7,694.9 714.2,695.0 714.7,695.1 715.2,695.2 715.7,695.3 716.2,695.4 716.7,695.5 717.2,695.6 717.7,695.7 718.2,695.8 718.8,695.9 719.3,696.0 719.8,696.1 720.3,696.2 720.8,696.3 721.4,696.4 721.9,696.5 722.4,696.6 723.0,696.7 723.5,696.8 724.0,696.9 724.6,697.0 725.1,697.1 725.6,697.2 726.2,697.3 726.7,697.4 727.2,697.5 727.8,697.6 728.3,697.7 728.9,697.8 729.4,697.9 730.0,698.0 730.5,698.1 731.1,698.2 731.6,698.3 732.2,698.4 732.8,698.5 733.3,698.6 733.9,698.7 734.4,698.8 735.0,698.9 735.6,699.0 736.1,699.1 736.7,699.2 737.3,699.2 737.8,699.3 738.4,699.4 739.0,699.5 739.6,699.6 740.1,699.7 740.7,699.8 741.3,699.9 741.9,700.0 742.5,700.0 743.1,700.1 743.6,700.2 744.2,700.3 744.8,700.4 745.4,700.5 746.0,700.5 746.6,700.6 747.2,700.7 747.8,700.8 748.4,700.8 749.0,700.9 749.6,701.0 750.2,701.1 750.8,701.1 751.4,701.2 752.0,701.3 752.7,701.4 753.3,701.4 753.9,701.5 754.5,701.6 755.1,701.7 755.7,701.7 756.4,701.8 757.0,701.9 757.6,701.9 758.2,702.0 758.9,702.1 759.5,702.1 760.1,702.2 760.7,702.3 761.4,702.3 762.0,702.4 762.6,702.5 763.3,702.5 763.9,702.6 764.6,702.7 765.2,702.7 765.9,702.8 766.5,702.9" fill="none" stroke="#0000ff" stroke-width="2.9" stroke-linecap="butt" stroke-linejoin="round"/>
<line x1="604.1999999999999" x2="767.1" y1="734.5" y2="734.5" stroke="#ff00ff" stroke-width="3.0"/>
<text x="601.2" y="737.60" font-size="10.8" text-anchor="end" fill="#222">0</text>
<text x="601.2" y="706.35" font-size="10.8" text-anchor="end" fill="#222">5</text>
<text x="601.2" y="675.10" font-size="10.8" text-anchor="end" fill="#222">10</text>
<text x="601.2" y="643.85" font-size="10.8" text-anchor="end" fill="#222">15</text>
<g fill="#333"><text x="652.20" y="632.50" font-size="8.7">τ</text><text x="655.90" y="628.29" font-size="5.6">-1</text><text x="656.15" y="635.60" font-size="5.6">LT</text></g>
<g fill="#333"><text x="651.20" y="660.50" font-size="8.7">τ</text><text x="654.90" y="656.29" font-size="5.6">-1</text><text x="655.15" y="663.60" font-size="5.6">HE</text></g>
<g fill="#333"><text x="656.00" y="704.00" font-size="10.0">ϕ</text><text x="660.96" y="699.26" font-size="5.8">-1</text></g>
<g fill="#333"><text x="726.60" y="726.00" font-size="8.7">τ</text><text x="730.30" y="721.79" font-size="5.6">-1</text><text x="730.55" y="729.10" font-size="5.6">ac</text></g>
<line x1="725.9" y1="728.1" x2="712" y2="735" stroke="#222" stroke-width="0.8"/>
<g fill="#333"><text x="726.20" y="638.00" font-size="11.8" font-style="italic">V</text><text x="732.20" y="640.60" font-size="7.2">o</text><text x="752.80" y="638.00" font-size="11.8">∞</text></g>
<path d="M739.40,633.80H749.40M746.80,631.50L750.00,633.80L746.80,636.10" fill="none" stroke="#333" stroke-width="0.95"/></svg></body></html>
